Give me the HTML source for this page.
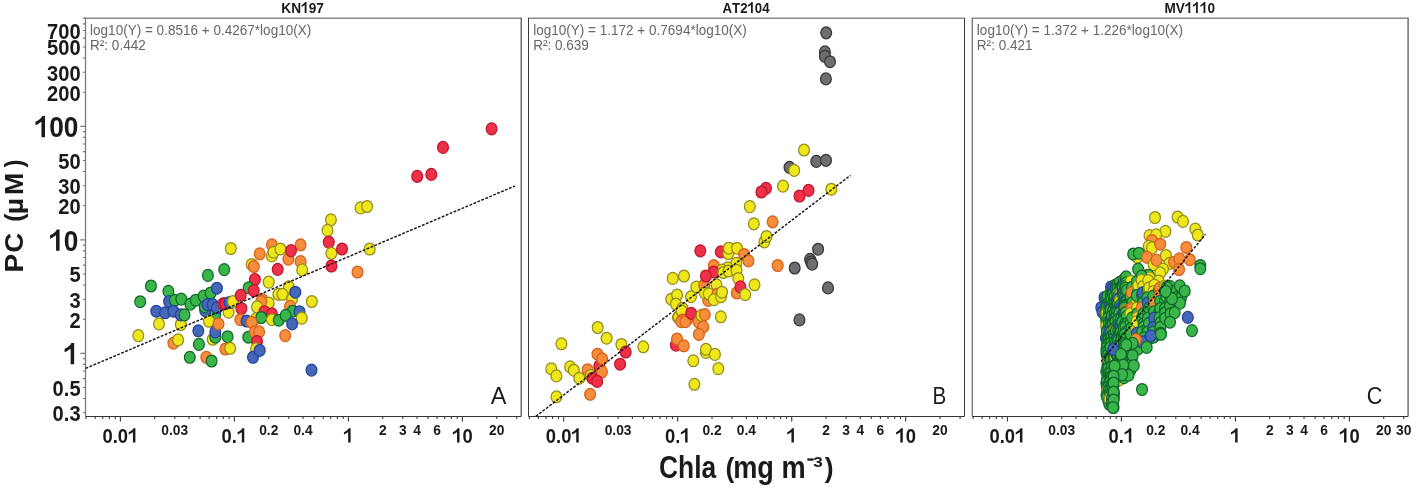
<!DOCTYPE html>
<html><head><meta charset="utf-8"><style>
html,body{margin:0;padding:0;background:#fff;}
body{width:1417px;height:489px;overflow:hidden;}
svg{display:block;font-family:"Liberation Sans", sans-serif;will-change:transform;}
</style></head><body>
<svg width="1417" height="489" viewBox="0 0 1417 489">
<rect width="1417" height="489" fill="#fff"/>
<path d="M84.8 18.2 H521.9" stroke="#8a8a8a" stroke-width="1.5" fill="none"/>
<path d="M85.5 18.2 V416.5" stroke="#7a7a7a" stroke-width="1.3" fill="none"/>
<path d="M521.2 18.2 V416.5" stroke="#555555" stroke-width="1.3" fill="none"/>
<path d="M85.5 416.5 H521.2" stroke="#333" stroke-width="1.0" fill="none"/>
<path d="M86.08 416.4 v2.6 M95.11 416.4 v2.6 M102.74 416.4 v2.6 M109.35 416.4 v2.6 M115.18 416.4 v2.6 M120.40 416.4 v5.0 M154.72 416.4 v2.6 M174.79 416.4 v2.6 M189.03 416.4 v2.6 M200.08 416.4 v2.6 M209.11 416.4 v2.6 M216.74 416.4 v2.6 M223.35 416.4 v2.6 M229.18 416.4 v2.6 M234.40 416.4 v5.0 M268.72 416.4 v2.6 M288.79 416.4 v2.6 M303.03 416.4 v2.6 M314.08 416.4 v2.6 M323.11 416.4 v2.6 M330.74 416.4 v2.6 M337.35 416.4 v2.6 M343.18 416.4 v2.6 M348.40 416.4 v5.0 M382.72 416.4 v2.6 M402.79 416.4 v2.6 M417.03 416.4 v2.6 M428.08 416.4 v2.6 M437.11 416.4 v2.6 M444.74 416.4 v2.6 M451.35 416.4 v2.6 M457.18 416.4 v2.6 M462.40 416.4 v5.0 M496.72 416.4 v2.6 M516.79 416.4 v2.6" stroke="#3a3a3a" stroke-width="1.1" fill="none"/>
<g transform="translate(120.40 442.60) scale(0.92 1)" fill="#1a1a1a"><text x="-19.46" y="0" font-size="20.0" font-weight="bold">0</text><text x="-8.34" y="0" font-size="20.0" font-weight="bold">.</text><text x="-2.78" y="0" font-size="20.0" font-weight="bold">0</text><polygon points="16.30,0.00 16.30,-14.32 14.18,-14.32 13.58,-13.36 12.44,-12.24 10.94,-11.30 9.04,-10.44 9.04,-8.10 10.74,-8.80 12.34,-9.70 13.62,-10.50 13.62,0.00"/></g>
<g transform="translate(234.40 442.60) scale(0.92 1)" fill="#1a1a1a"><text x="-13.90" y="0" font-size="20.0" font-weight="bold">0</text><text x="-2.78" y="0" font-size="20.0" font-weight="bold">.</text><polygon points="10.74,0.00 10.74,-14.32 8.62,-14.32 8.02,-13.36 6.88,-12.24 5.38,-11.30 3.48,-10.44 3.48,-8.10 5.18,-8.80 6.78,-9.70 8.06,-10.50 8.06,0.00"/></g>
<g transform="translate(348.40 442.60) scale(0.92 1)" fill="#1a1a1a"><polygon points="2.40,0.00 2.40,-14.32 0.28,-14.32 -0.32,-13.36 -1.46,-12.24 -2.96,-11.30 -4.86,-10.44 -4.86,-8.10 -3.16,-8.80 -1.56,-9.70 -0.28,-10.50 -0.28,0.00"/></g>
<g transform="translate(462.40 442.60) scale(0.92 1)" fill="#1a1a1a"><polygon points="-3.16,0.00 -3.16,-14.32 -5.28,-14.32 -5.88,-13.36 -7.02,-12.24 -8.52,-11.30 -10.42,-10.44 -10.42,-8.10 -8.72,-8.80 -7.12,-9.70 -5.84,-10.50 -5.84,0.00"/><text x="0.00" y="0" font-size="20.0" font-weight="bold">0</text></g>
<text transform="translate(174.79 435.30) scale(0.92 1)" font-size="15.0" font-weight="bold" text-anchor="middle" fill="#1a1a1a">0.03</text>
<text transform="translate(268.72 435.30) scale(0.92 1)" font-size="15.0" font-weight="bold" text-anchor="middle" fill="#1a1a1a">0.2</text>
<text transform="translate(303.03 435.30) scale(0.92 1)" font-size="15.0" font-weight="bold" text-anchor="middle" fill="#1a1a1a">0.4</text>
<text transform="translate(382.72 435.30) scale(0.92 1)" font-size="15.0" font-weight="bold" text-anchor="middle" fill="#1a1a1a">2</text>
<text transform="translate(402.79 435.30) scale(0.92 1)" font-size="15.0" font-weight="bold" text-anchor="middle" fill="#1a1a1a">3</text>
<text transform="translate(417.03 435.30) scale(0.92 1)" font-size="15.0" font-weight="bold" text-anchor="middle" fill="#1a1a1a">4</text>
<text transform="translate(437.11 435.30) scale(0.92 1)" font-size="15.0" font-weight="bold" text-anchor="middle" fill="#1a1a1a">6</text>
<text transform="translate(496.72 435.30) scale(0.92 1)" font-size="15.0" font-weight="bold" text-anchor="middle" fill="#1a1a1a">20</text>
<path d="M527.8 18.2 H965.2" stroke="#8a8a8a" stroke-width="1.5" fill="none"/>
<path d="M528.5 18.2 V416.5" stroke="#3a3a3a" stroke-width="1.0" fill="none"/>
<path d="M964.5 18.2 V416.5" stroke="#3a3a3a" stroke-width="1.0" fill="none"/>
<path d="M528.5 416.5 H964.5" stroke="#333" stroke-width="1.0" fill="none"/>
<path d="M529.38 416.4 v2.6 M538.41 416.4 v2.6 M546.04 416.4 v2.6 M552.65 416.4 v2.6 M558.48 416.4 v2.6 M563.70 416.4 v5.0 M598.02 416.4 v2.6 M618.09 416.4 v2.6 M632.33 416.4 v2.6 M643.38 416.4 v2.6 M652.41 416.4 v2.6 M660.04 416.4 v2.6 M666.65 416.4 v2.6 M672.48 416.4 v2.6 M677.70 416.4 v5.0 M712.02 416.4 v2.6 M732.09 416.4 v2.6 M746.33 416.4 v2.6 M757.38 416.4 v2.6 M766.41 416.4 v2.6 M774.04 416.4 v2.6 M780.65 416.4 v2.6 M786.48 416.4 v2.6 M791.70 416.4 v5.0 M826.02 416.4 v2.6 M846.09 416.4 v2.6 M860.33 416.4 v2.6 M871.38 416.4 v2.6 M880.41 416.4 v2.6 M888.04 416.4 v2.6 M894.65 416.4 v2.6 M900.48 416.4 v2.6 M905.70 416.4 v5.0 M940.02 416.4 v2.6 M960.09 416.4 v2.6" stroke="#3a3a3a" stroke-width="1.1" fill="none"/>
<g transform="translate(563.70 442.60) scale(0.92 1)" fill="#1a1a1a"><text x="-19.46" y="0" font-size="20.0" font-weight="bold">0</text><text x="-8.34" y="0" font-size="20.0" font-weight="bold">.</text><text x="-2.78" y="0" font-size="20.0" font-weight="bold">0</text><polygon points="16.30,0.00 16.30,-14.32 14.18,-14.32 13.58,-13.36 12.44,-12.24 10.94,-11.30 9.04,-10.44 9.04,-8.10 10.74,-8.80 12.34,-9.70 13.62,-10.50 13.62,0.00"/></g>
<g transform="translate(677.70 442.60) scale(0.92 1)" fill="#1a1a1a"><text x="-13.90" y="0" font-size="20.0" font-weight="bold">0</text><text x="-2.78" y="0" font-size="20.0" font-weight="bold">.</text><polygon points="10.74,0.00 10.74,-14.32 8.62,-14.32 8.02,-13.36 6.88,-12.24 5.38,-11.30 3.48,-10.44 3.48,-8.10 5.18,-8.80 6.78,-9.70 8.06,-10.50 8.06,0.00"/></g>
<g transform="translate(791.70 442.60) scale(0.92 1)" fill="#1a1a1a"><polygon points="2.40,0.00 2.40,-14.32 0.28,-14.32 -0.32,-13.36 -1.46,-12.24 -2.96,-11.30 -4.86,-10.44 -4.86,-8.10 -3.16,-8.80 -1.56,-9.70 -0.28,-10.50 -0.28,0.00"/></g>
<g transform="translate(905.70 442.60) scale(0.92 1)" fill="#1a1a1a"><polygon points="-3.16,0.00 -3.16,-14.32 -5.28,-14.32 -5.88,-13.36 -7.02,-12.24 -8.52,-11.30 -10.42,-10.44 -10.42,-8.10 -8.72,-8.80 -7.12,-9.70 -5.84,-10.50 -5.84,0.00"/><text x="0.00" y="0" font-size="20.0" font-weight="bold">0</text></g>
<text transform="translate(618.09 435.30) scale(0.92 1)" font-size="15.0" font-weight="bold" text-anchor="middle" fill="#1a1a1a">0.03</text>
<text transform="translate(712.02 435.30) scale(0.92 1)" font-size="15.0" font-weight="bold" text-anchor="middle" fill="#1a1a1a">0.2</text>
<text transform="translate(746.33 435.30) scale(0.92 1)" font-size="15.0" font-weight="bold" text-anchor="middle" fill="#1a1a1a">0.4</text>
<text transform="translate(826.02 435.30) scale(0.92 1)" font-size="15.0" font-weight="bold" text-anchor="middle" fill="#1a1a1a">2</text>
<text transform="translate(846.09 435.30) scale(0.92 1)" font-size="15.0" font-weight="bold" text-anchor="middle" fill="#1a1a1a">3</text>
<text transform="translate(860.33 435.30) scale(0.92 1)" font-size="15.0" font-weight="bold" text-anchor="middle" fill="#1a1a1a">4</text>
<text transform="translate(880.41 435.30) scale(0.92 1)" font-size="15.0" font-weight="bold" text-anchor="middle" fill="#1a1a1a">6</text>
<text transform="translate(940.02 435.30) scale(0.92 1)" font-size="15.0" font-weight="bold" text-anchor="middle" fill="#1a1a1a">20</text>
<path d="M971.6 18.2 H1408.8" stroke="#8a8a8a" stroke-width="1.5" fill="none"/>
<path d="M972.3 18.2 V416.5" stroke="#7a7a7a" stroke-width="1.4" fill="none"/>
<path d="M1408.1 18.2 V416.5" stroke="#6e6e6e" stroke-width="1.5" fill="none"/>
<path d="M972.3 416.5 H1408.1" stroke="#333" stroke-width="1.0" fill="none"/>
<path d="M973.08 416.4 v2.6 M982.11 416.4 v2.6 M989.74 416.4 v2.6 M996.35 416.4 v2.6 M1002.18 416.4 v2.6 M1007.40 416.4 v5.0 M1041.72 416.4 v2.6 M1061.79 416.4 v2.6 M1076.03 416.4 v2.6 M1087.08 416.4 v2.6 M1096.11 416.4 v2.6 M1103.74 416.4 v2.6 M1110.35 416.4 v2.6 M1116.18 416.4 v2.6 M1121.40 416.4 v5.0 M1155.72 416.4 v2.6 M1175.79 416.4 v2.6 M1190.03 416.4 v2.6 M1201.08 416.4 v2.6 M1210.11 416.4 v2.6 M1217.74 416.4 v2.6 M1224.35 416.4 v2.6 M1230.18 416.4 v2.6 M1235.40 416.4 v5.0 M1269.72 416.4 v2.6 M1289.79 416.4 v2.6 M1304.03 416.4 v2.6 M1315.08 416.4 v2.6 M1324.11 416.4 v2.6 M1331.74 416.4 v2.6 M1338.35 416.4 v2.6 M1344.18 416.4 v2.6 M1349.40 416.4 v5.0 M1383.72 416.4 v2.6 M1403.79 416.4 v2.6" stroke="#3a3a3a" stroke-width="1.1" fill="none"/>
<g transform="translate(1007.40 442.60) scale(0.92 1)" fill="#1a1a1a"><text x="-19.46" y="0" font-size="20.0" font-weight="bold">0</text><text x="-8.34" y="0" font-size="20.0" font-weight="bold">.</text><text x="-2.78" y="0" font-size="20.0" font-weight="bold">0</text><polygon points="16.30,0.00 16.30,-14.32 14.18,-14.32 13.58,-13.36 12.44,-12.24 10.94,-11.30 9.04,-10.44 9.04,-8.10 10.74,-8.80 12.34,-9.70 13.62,-10.50 13.62,0.00"/></g>
<g transform="translate(1121.40 442.60) scale(0.92 1)" fill="#1a1a1a"><text x="-13.90" y="0" font-size="20.0" font-weight="bold">0</text><text x="-2.78" y="0" font-size="20.0" font-weight="bold">.</text><polygon points="10.74,0.00 10.74,-14.32 8.62,-14.32 8.02,-13.36 6.88,-12.24 5.38,-11.30 3.48,-10.44 3.48,-8.10 5.18,-8.80 6.78,-9.70 8.06,-10.50 8.06,0.00"/></g>
<g transform="translate(1235.40 442.60) scale(0.92 1)" fill="#1a1a1a"><polygon points="2.40,0.00 2.40,-14.32 0.28,-14.32 -0.32,-13.36 -1.46,-12.24 -2.96,-11.30 -4.86,-10.44 -4.86,-8.10 -3.16,-8.80 -1.56,-9.70 -0.28,-10.50 -0.28,0.00"/></g>
<g transform="translate(1349.40 442.60) scale(0.92 1)" fill="#1a1a1a"><polygon points="-3.16,0.00 -3.16,-14.32 -5.28,-14.32 -5.88,-13.36 -7.02,-12.24 -8.52,-11.30 -10.42,-10.44 -10.42,-8.10 -8.72,-8.80 -7.12,-9.70 -5.84,-10.50 -5.84,0.00"/><text x="0.00" y="0" font-size="20.0" font-weight="bold">0</text></g>
<text transform="translate(1061.79 435.30) scale(0.92 1)" font-size="15.0" font-weight="bold" text-anchor="middle" fill="#1a1a1a">0.03</text>
<text transform="translate(1155.72 435.30) scale(0.92 1)" font-size="15.0" font-weight="bold" text-anchor="middle" fill="#1a1a1a">0.2</text>
<text transform="translate(1190.03 435.30) scale(0.92 1)" font-size="15.0" font-weight="bold" text-anchor="middle" fill="#1a1a1a">0.4</text>
<text transform="translate(1269.72 435.30) scale(0.92 1)" font-size="15.0" font-weight="bold" text-anchor="middle" fill="#1a1a1a">2</text>
<text transform="translate(1289.79 435.30) scale(0.92 1)" font-size="15.0" font-weight="bold" text-anchor="middle" fill="#1a1a1a">3</text>
<text transform="translate(1304.03 435.30) scale(0.92 1)" font-size="15.0" font-weight="bold" text-anchor="middle" fill="#1a1a1a">4</text>
<text transform="translate(1324.11 435.30) scale(0.92 1)" font-size="15.0" font-weight="bold" text-anchor="middle" fill="#1a1a1a">6</text>
<text transform="translate(1383.72 435.30) scale(0.92 1)" font-size="15.0" font-weight="bold" text-anchor="middle" fill="#1a1a1a">20</text>
<text transform="translate(1403.79 435.30) scale(0.92 1)" font-size="15.0" font-weight="bold" text-anchor="middle" fill="#1a1a1a">30</text>
<path d="M85.5 412.75 h-2.7 M85.5 398.57 h-2.7 M85.5 387.57 h-2.7 M85.5 378.58 h-2.7 M85.5 370.98 h-2.7 M85.5 364.40 h-2.7 M85.5 358.59 h-2.7 M85.5 353.40 h-5.2 M85.5 319.23 h-2.7 M85.5 299.25 h-2.7 M85.5 285.07 h-2.7 M85.5 274.07 h-2.7 M85.5 265.08 h-2.7 M85.5 257.48 h-2.7 M85.5 250.90 h-2.7 M85.5 245.09 h-2.7 M85.5 239.90 h-5.2 M85.5 205.73 h-2.7 M85.5 185.75 h-2.7 M85.5 171.57 h-2.7 M85.5 160.57 h-2.7 M85.5 151.58 h-2.7 M85.5 143.98 h-2.7 M85.5 137.40 h-2.7 M85.5 131.59 h-2.7 M85.5 126.40 h-5.2 M85.5 92.23 h-2.7 M85.5 72.25 h-2.7 M85.5 58.07 h-2.7 M85.5 47.07 h-2.7 M85.5 38.08 h-2.7 M85.5 30.48 h-2.7 M85.5 23.90 h-2.7 M85.5 18.09 h-2.7" stroke="#7a7a7a" stroke-width="1.1" fill="none"/>
<g transform="translate(78.30 364.30) scale(0.88 1)" fill="#1a1a1a"><polygon points="-4.71,0.00 -4.71,-21.34 -7.87,-21.34 -8.76,-19.91 -10.46,-18.24 -12.69,-16.84 -15.53,-15.56 -15.53,-12.07 -12.99,-13.11 -10.61,-14.45 -8.70,-15.65 -8.70,0.00"/></g>
<g transform="translate(78.30 250.80) scale(0.88 1)" fill="#1a1a1a"><polygon points="-21.28,0.00 -21.28,-21.34 -24.44,-21.34 -25.33,-19.91 -27.03,-18.24 -29.26,-16.84 -32.09,-15.56 -32.09,-12.07 -29.56,-13.11 -27.18,-14.45 -25.27,-15.65 -25.27,0.00"/><text x="-16.57" y="0" font-size="29.8" font-weight="bold">0</text></g>
<g transform="translate(78.30 137.30) scale(0.88 1)" fill="#1a1a1a"><polygon points="-37.85,0.00 -37.85,-21.34 -41.00,-21.34 -41.90,-19.91 -43.60,-18.24 -45.83,-16.84 -48.66,-15.56 -48.66,-12.07 -46.13,-13.11 -43.75,-14.45 -41.84,-15.65 -41.84,0.00"/><text x="-33.14" y="0" font-size="29.8" font-weight="bold">0</text><text x="-16.57" y="0" font-size="29.8" font-weight="bold">0</text></g>
<text transform="translate(80.60 421.05) scale(0.895 1)" font-size="22.5" font-weight="bold" text-anchor="end" fill="#1a1a1a">0.3</text>
<text transform="translate(80.60 395.87) scale(0.895 1)" font-size="22.5" font-weight="bold" text-anchor="end" fill="#1a1a1a">0.5</text>
<text transform="translate(80.60 327.53) scale(0.895 1)" font-size="22.5" font-weight="bold" text-anchor="end" fill="#1a1a1a">2</text>
<text transform="translate(80.60 307.55) scale(0.895 1)" font-size="22.5" font-weight="bold" text-anchor="end" fill="#1a1a1a">3</text>
<text transform="translate(80.60 282.37) scale(0.895 1)" font-size="22.5" font-weight="bold" text-anchor="end" fill="#1a1a1a">5</text>
<text transform="translate(80.60 214.03) scale(0.895 1)" font-size="22.5" font-weight="bold" text-anchor="end" fill="#1a1a1a">20</text>
<text transform="translate(80.60 194.05) scale(0.895 1)" font-size="22.5" font-weight="bold" text-anchor="end" fill="#1a1a1a">30</text>
<text transform="translate(80.60 168.87) scale(0.895 1)" font-size="22.5" font-weight="bold" text-anchor="end" fill="#1a1a1a">50</text>
<text transform="translate(80.60 100.53) scale(0.895 1)" font-size="22.5" font-weight="bold" text-anchor="end" fill="#1a1a1a">200</text>
<text transform="translate(80.60 80.55) scale(0.895 1)" font-size="22.5" font-weight="bold" text-anchor="end" fill="#1a1a1a">300</text>
<text transform="translate(80.60 55.37) scale(0.895 1)" font-size="22.5" font-weight="bold" text-anchor="end" fill="#1a1a1a">500</text>
<text transform="translate(80.60 38.78) scale(0.895 1)" font-size="22.5" font-weight="bold" text-anchor="end" fill="#1a1a1a">700</text>
<ellipse cx="140.2" cy="301.7" rx="5.4" ry="5.95" fill="#3ab54a" stroke="#11692b" stroke-width="1.25"/>
<ellipse cx="151.0" cy="286.0" rx="5.4" ry="5.95" fill="#3ab54a" stroke="#11692b" stroke-width="1.25"/>
<ellipse cx="168.4" cy="291.4" rx="5.4" ry="5.95" fill="#3ab54a" stroke="#11692b" stroke-width="1.25"/>
<ellipse cx="207.9" cy="275.4" rx="5.4" ry="5.95" fill="#3ab54a" stroke="#11692b" stroke-width="1.25"/>
<ellipse cx="224.2" cy="269.6" rx="5.4" ry="5.95" fill="#3ab54a" stroke="#11692b" stroke-width="1.25"/>
<ellipse cx="169.1" cy="301.5" rx="5.4" ry="5.95" fill="#4467b8" stroke="#2443a0" stroke-width="1.25"/>
<ellipse cx="174.9" cy="300.2" rx="5.4" ry="5.95" fill="#3ab54a" stroke="#11692b" stroke-width="1.25"/>
<ellipse cx="181.3" cy="299.1" rx="5.4" ry="5.95" fill="#3ab54a" stroke="#11692b" stroke-width="1.25"/>
<ellipse cx="190.4" cy="304.1" rx="5.4" ry="5.95" fill="#3ab54a" stroke="#11692b" stroke-width="1.25"/>
<ellipse cx="195.7" cy="300.2" rx="5.4" ry="5.95" fill="#3ab54a" stroke="#11692b" stroke-width="1.25"/>
<ellipse cx="203.6" cy="296.1" rx="5.4" ry="5.95" fill="#3ab54a" stroke="#11692b" stroke-width="1.25"/>
<ellipse cx="210.6" cy="293.0" rx="5.4" ry="5.95" fill="#3ab54a" stroke="#11692b" stroke-width="1.25"/>
<ellipse cx="216.9" cy="288.2" rx="5.4" ry="5.95" fill="#4467b8" stroke="#2443a0" stroke-width="1.25"/>
<ellipse cx="156.3" cy="311.2" rx="5.4" ry="5.95" fill="#4467b8" stroke="#2443a0" stroke-width="1.25"/>
<ellipse cx="165.1" cy="312.8" rx="5.4" ry="5.95" fill="#4467b8" stroke="#2443a0" stroke-width="1.25"/>
<ellipse cx="173.4" cy="311.2" rx="5.4" ry="5.95" fill="#4467b8" stroke="#2443a0" stroke-width="1.25"/>
<ellipse cx="180.8" cy="324.5" rx="5.4" ry="5.95" fill="#eee71b" stroke="#938d1c" stroke-width="1.25"/>
<ellipse cx="180.8" cy="314.9" rx="5.4" ry="5.95" fill="#4467b8" stroke="#2443a0" stroke-width="1.25"/>
<ellipse cx="184.5" cy="314.9" rx="5.4" ry="5.95" fill="#3ab54a" stroke="#11692b" stroke-width="1.25"/>
<ellipse cx="215.3" cy="314.5" rx="5.4" ry="5.95" fill="#3ab54a" stroke="#11692b" stroke-width="1.25"/>
<ellipse cx="205.2" cy="310.6" rx="5.4" ry="5.95" fill="#4467b8" stroke="#2443a0" stroke-width="1.25"/>
<ellipse cx="204.7" cy="306.8" rx="5.4" ry="5.95" fill="#3ab54a" stroke="#11692b" stroke-width="1.25"/>
<ellipse cx="207.4" cy="304.6" rx="5.4" ry="5.95" fill="#4467b8" stroke="#2443a0" stroke-width="1.25"/>
<ellipse cx="212.7" cy="304.6" rx="5.4" ry="5.95" fill="#4467b8" stroke="#2443a0" stroke-width="1.25"/>
<ellipse cx="216.9" cy="307.8" rx="5.4" ry="5.95" fill="#4467b8" stroke="#2443a0" stroke-width="1.25"/>
<ellipse cx="228.6" cy="312.2" rx="5.4" ry="5.95" fill="#eee71b" stroke="#938d1c" stroke-width="1.25"/>
<ellipse cx="223.3" cy="303.7" rx="5.4" ry="5.95" fill="#ee3048" stroke="#bd172d" stroke-width="1.25"/>
<ellipse cx="225.4" cy="303.6" rx="5.4" ry="5.95" fill="#ee3048" stroke="#bd172d" stroke-width="1.25"/>
<ellipse cx="229.5" cy="302.5" rx="5.4" ry="5.95" fill="#4467b8" stroke="#2443a0" stroke-width="1.25"/>
<ellipse cx="232.9" cy="301.5" rx="5.4" ry="5.95" fill="#eee71b" stroke="#938d1c" stroke-width="1.25"/>
<ellipse cx="209.0" cy="321.3" rx="5.4" ry="5.95" fill="#eee71b" stroke="#938d1c" stroke-width="1.25"/>
<ellipse cx="159.0" cy="323.9" rx="5.4" ry="5.95" fill="#eee71b" stroke="#938d1c" stroke-width="1.25"/>
<ellipse cx="138.3" cy="335.6" rx="5.4" ry="5.95" fill="#eee71b" stroke="#938d1c" stroke-width="1.25"/>
<ellipse cx="198.3" cy="330.8" rx="5.4" ry="5.95" fill="#4467b8" stroke="#2443a0" stroke-width="1.25"/>
<ellipse cx="212.7" cy="339.3" rx="5.4" ry="5.95" fill="#eee71b" stroke="#938d1c" stroke-width="1.25"/>
<ellipse cx="215.3" cy="337.2" rx="5.4" ry="5.95" fill="#3ab54a" stroke="#11692b" stroke-width="1.25"/>
<ellipse cx="215.3" cy="331.9" rx="5.4" ry="5.95" fill="#4467b8" stroke="#2443a0" stroke-width="1.25"/>
<ellipse cx="218.5" cy="323.9" rx="5.4" ry="5.95" fill="#f58d3a" stroke="#d4621c" stroke-width="1.25"/>
<ellipse cx="227.6" cy="336.7" rx="5.4" ry="5.95" fill="#3ab54a" stroke="#11692b" stroke-width="1.25"/>
<ellipse cx="198.9" cy="344.4" rx="5.4" ry="5.95" fill="#3ab54a" stroke="#11692b" stroke-width="1.25"/>
<ellipse cx="173.4" cy="343.1" rx="5.4" ry="5.95" fill="#f58d3a" stroke="#d4621c" stroke-width="1.25"/>
<ellipse cx="178.1" cy="339.9" rx="5.4" ry="5.95" fill="#eee71b" stroke="#938d1c" stroke-width="1.25"/>
<ellipse cx="189.8" cy="357.3" rx="5.4" ry="5.95" fill="#3ab54a" stroke="#11692b" stroke-width="1.25"/>
<ellipse cx="206.3" cy="357.3" rx="5.4" ry="5.95" fill="#f58d3a" stroke="#d4621c" stroke-width="1.25"/>
<ellipse cx="211.6" cy="361.0" rx="5.4" ry="5.95" fill="#3ab54a" stroke="#11692b" stroke-width="1.25"/>
<ellipse cx="225.4" cy="349.0" rx="5.4" ry="5.95" fill="#f58d3a" stroke="#d4621c" stroke-width="1.25"/>
<ellipse cx="230.2" cy="348.3" rx="5.4" ry="5.95" fill="#eee71b" stroke="#938d1c" stroke-width="1.25"/>
<ellipse cx="311.5" cy="370.1" rx="5.4" ry="5.95" fill="#4467b8" stroke="#2443a0" stroke-width="1.25"/>
<ellipse cx="491.6" cy="128.8" rx="5.4" ry="5.95" fill="#ee3048" stroke="#bd172d" stroke-width="1.25"/>
<ellipse cx="443.0" cy="147.4" rx="5.4" ry="5.95" fill="#ee3048" stroke="#bd172d" stroke-width="1.25"/>
<ellipse cx="417.2" cy="176.3" rx="5.4" ry="5.95" fill="#ee3048" stroke="#bd172d" stroke-width="1.25"/>
<ellipse cx="431.3" cy="174.4" rx="5.4" ry="5.95" fill="#ee3048" stroke="#bd172d" stroke-width="1.25"/>
<ellipse cx="360.5" cy="207.9" rx="5.4" ry="5.95" fill="#eee71b" stroke="#938d1c" stroke-width="1.25"/>
<ellipse cx="367.1" cy="206.5" rx="5.4" ry="5.95" fill="#eee71b" stroke="#938d1c" stroke-width="1.25"/>
<ellipse cx="330.9" cy="219.8" rx="5.4" ry="5.95" fill="#eee71b" stroke="#938d1c" stroke-width="1.25"/>
<ellipse cx="327.5" cy="230.4" rx="5.4" ry="5.95" fill="#eee71b" stroke="#938d1c" stroke-width="1.25"/>
<ellipse cx="328.8" cy="242.1" rx="5.4" ry="5.95" fill="#ee3048" stroke="#bd172d" stroke-width="1.25"/>
<ellipse cx="331.4" cy="253.3" rx="5.4" ry="5.95" fill="#eee71b" stroke="#938d1c" stroke-width="1.25"/>
<ellipse cx="342.0" cy="249.0" rx="5.4" ry="5.95" fill="#ee3048" stroke="#bd172d" stroke-width="1.25"/>
<ellipse cx="369.7" cy="249.0" rx="5.4" ry="5.95" fill="#eee71b" stroke="#938d1c" stroke-width="1.25"/>
<ellipse cx="331.4" cy="266.0" rx="5.4" ry="5.95" fill="#ee3048" stroke="#bd172d" stroke-width="1.25"/>
<ellipse cx="357.5" cy="272.0" rx="5.4" ry="5.95" fill="#f58d3a" stroke="#d4621c" stroke-width="1.25"/>
<ellipse cx="271.9" cy="244.8" rx="5.4" ry="5.95" fill="#f58d3a" stroke="#d4621c" stroke-width="1.25"/>
<ellipse cx="300.6" cy="244.8" rx="5.4" ry="5.95" fill="#f58d3a" stroke="#d4621c" stroke-width="1.25"/>
<ellipse cx="230.8" cy="248.5" rx="5.4" ry="5.95" fill="#eee71b" stroke="#938d1c" stroke-width="1.25"/>
<ellipse cx="259.7" cy="253.8" rx="5.4" ry="5.95" fill="#f58d3a" stroke="#d4621c" stroke-width="1.25"/>
<ellipse cx="271.9" cy="255.9" rx="5.4" ry="5.95" fill="#eee71b" stroke="#938d1c" stroke-width="1.25"/>
<ellipse cx="273.5" cy="252.2" rx="5.4" ry="5.95" fill="#eee71b" stroke="#938d1c" stroke-width="1.25"/>
<ellipse cx="280.4" cy="249.0" rx="5.4" ry="5.95" fill="#eee71b" stroke="#938d1c" stroke-width="1.25"/>
<ellipse cx="288.4" cy="259.1" rx="5.4" ry="5.95" fill="#f58d3a" stroke="#d4621c" stroke-width="1.25"/>
<ellipse cx="291.0" cy="250.6" rx="5.4" ry="5.95" fill="#ee3048" stroke="#bd172d" stroke-width="1.25"/>
<ellipse cx="300.6" cy="261.6" rx="5.4" ry="5.95" fill="#f58d3a" stroke="#d4621c" stroke-width="1.25"/>
<ellipse cx="251.7" cy="264.5" rx="5.4" ry="5.95" fill="#eee71b" stroke="#938d1c" stroke-width="1.25"/>
<ellipse cx="253.8" cy="266.5" rx="5.4" ry="5.95" fill="#f58d3a" stroke="#d4621c" stroke-width="1.25"/>
<ellipse cx="277.7" cy="269.4" rx="5.4" ry="5.95" fill="#ee3048" stroke="#bd172d" stroke-width="1.25"/>
<ellipse cx="302.2" cy="269.9" rx="5.4" ry="5.95" fill="#eee71b" stroke="#938d1c" stroke-width="1.25"/>
<ellipse cx="254.9" cy="279.5" rx="5.4" ry="5.95" fill="#ee3048" stroke="#bd172d" stroke-width="1.25"/>
<ellipse cx="268.7" cy="282.1" rx="5.4" ry="5.95" fill="#eee71b" stroke="#938d1c" stroke-width="1.25"/>
<ellipse cx="248.6" cy="287.8" rx="5.4" ry="5.95" fill="#3ab54a" stroke="#11692b" stroke-width="1.25"/>
<ellipse cx="253.8" cy="290.6" rx="5.4" ry="5.95" fill="#ee3048" stroke="#bd172d" stroke-width="1.25"/>
<ellipse cx="240.7" cy="295.3" rx="5.4" ry="5.95" fill="#ee3048" stroke="#bd172d" stroke-width="1.25"/>
<ellipse cx="288.9" cy="286.9" rx="5.4" ry="5.95" fill="#eee71b" stroke="#938d1c" stroke-width="1.25"/>
<ellipse cx="278.3" cy="294.3" rx="5.4" ry="5.95" fill="#eee71b" stroke="#938d1c" stroke-width="1.25"/>
<ellipse cx="282.5" cy="294.3" rx="5.4" ry="5.95" fill="#eee71b" stroke="#938d1c" stroke-width="1.25"/>
<ellipse cx="292.1" cy="299.0" rx="5.4" ry="5.95" fill="#eee71b" stroke="#938d1c" stroke-width="1.25"/>
<ellipse cx="295.3" cy="292.2" rx="5.4" ry="5.95" fill="#4467b8" stroke="#2443a0" stroke-width="1.25"/>
<ellipse cx="262.3" cy="299.6" rx="5.4" ry="5.95" fill="#f58d3a" stroke="#d4621c" stroke-width="1.25"/>
<ellipse cx="268.7" cy="303.0" rx="5.4" ry="5.95" fill="#eee71b" stroke="#938d1c" stroke-width="1.25"/>
<ellipse cx="311.8" cy="301.5" rx="5.4" ry="5.95" fill="#eee71b" stroke="#938d1c" stroke-width="1.25"/>
<ellipse cx="261.3" cy="301.6" rx="5.4" ry="5.95" fill="#f58d3a" stroke="#d4621c" stroke-width="1.25"/>
<ellipse cx="257.0" cy="306.9" rx="5.4" ry="5.95" fill="#eee71b" stroke="#938d1c" stroke-width="1.25"/>
<ellipse cx="290.0" cy="306.4" rx="5.4" ry="5.95" fill="#f58d3a" stroke="#d4621c" stroke-width="1.25"/>
<ellipse cx="241.4" cy="308.5" rx="5.4" ry="5.95" fill="#ee3048" stroke="#bd172d" stroke-width="1.25"/>
<ellipse cx="264.4" cy="311.7" rx="5.4" ry="5.95" fill="#ee3048" stroke="#bd172d" stroke-width="1.25"/>
<ellipse cx="271.9" cy="313.8" rx="5.4" ry="5.95" fill="#ee3048" stroke="#bd172d" stroke-width="1.25"/>
<ellipse cx="292.6" cy="311.2" rx="5.4" ry="5.95" fill="#3ab54a" stroke="#11692b" stroke-width="1.25"/>
<ellipse cx="299.5" cy="311.7" rx="5.4" ry="5.95" fill="#4467b8" stroke="#2443a0" stroke-width="1.25"/>
<ellipse cx="256.0" cy="318.6" rx="5.4" ry="5.95" fill="#eee71b" stroke="#938d1c" stroke-width="1.25"/>
<ellipse cx="261.3" cy="317.5" rx="5.4" ry="5.95" fill="#3ab54a" stroke="#11692b" stroke-width="1.25"/>
<ellipse cx="271.9" cy="319.7" rx="5.4" ry="5.95" fill="#eee71b" stroke="#938d1c" stroke-width="1.25"/>
<ellipse cx="278.8" cy="320.2" rx="5.4" ry="5.95" fill="#3ab54a" stroke="#11692b" stroke-width="1.25"/>
<ellipse cx="285.7" cy="315.4" rx="5.4" ry="5.95" fill="#3ab54a" stroke="#11692b" stroke-width="1.25"/>
<ellipse cx="301.7" cy="318.1" rx="5.4" ry="5.95" fill="#eee71b" stroke="#938d1c" stroke-width="1.25"/>
<ellipse cx="292.1" cy="323.9" rx="5.4" ry="5.95" fill="#4467b8" stroke="#2443a0" stroke-width="1.25"/>
<ellipse cx="240.3" cy="319.7" rx="5.4" ry="5.95" fill="#f58d3a" stroke="#d4621c" stroke-width="1.25"/>
<ellipse cx="246.6" cy="321.0" rx="5.4" ry="5.95" fill="#4467b8" stroke="#2443a0" stroke-width="1.25"/>
<ellipse cx="251.7" cy="322.3" rx="5.4" ry="5.95" fill="#f58d3a" stroke="#d4621c" stroke-width="1.25"/>
<ellipse cx="248.3" cy="337.2" rx="5.4" ry="5.95" fill="#3ab54a" stroke="#11692b" stroke-width="1.25"/>
<ellipse cx="254.9" cy="331.9" rx="5.4" ry="5.95" fill="#f58d3a" stroke="#d4621c" stroke-width="1.25"/>
<ellipse cx="259.1" cy="331.9" rx="5.4" ry="5.95" fill="#f58d3a" stroke="#d4621c" stroke-width="1.25"/>
<ellipse cx="285.2" cy="335.6" rx="5.4" ry="5.95" fill="#f58d3a" stroke="#d4621c" stroke-width="1.25"/>
<ellipse cx="257.0" cy="341.5" rx="5.4" ry="5.95" fill="#ee3048" stroke="#bd172d" stroke-width="1.25"/>
<ellipse cx="256.0" cy="348.8" rx="5.4" ry="5.95" fill="#eee71b" stroke="#938d1c" stroke-width="1.25"/>
<ellipse cx="253.0" cy="357.3" rx="5.4" ry="5.95" fill="#4467b8" stroke="#2443a0" stroke-width="1.25"/>
<ellipse cx="259.7" cy="350.4" rx="5.4" ry="5.95" fill="#4467b8" stroke="#2443a0" stroke-width="1.25"/>
<ellipse cx="826.2" cy="32.8" rx="5.4" ry="5.95" fill="#6e6e70" stroke="#363636" stroke-width="1.25"/>
<ellipse cx="824.9" cy="51.9" rx="5.4" ry="5.95" fill="#6e6e70" stroke="#363636" stroke-width="1.25"/>
<ellipse cx="824.9" cy="56.3" rx="5.4" ry="5.95" fill="#6e6e70" stroke="#363636" stroke-width="1.25"/>
<ellipse cx="830.0" cy="61.7" rx="5.4" ry="5.95" fill="#6e6e70" stroke="#363636" stroke-width="1.25"/>
<ellipse cx="825.9" cy="78.9" rx="5.4" ry="5.95" fill="#6e6e70" stroke="#363636" stroke-width="1.25"/>
<ellipse cx="804.0" cy="150.0" rx="5.4" ry="5.95" fill="#eee71b" stroke="#938d1c" stroke-width="1.25"/>
<ellipse cx="816.3" cy="161.4" rx="5.4" ry="5.95" fill="#6e6e70" stroke="#363636" stroke-width="1.25"/>
<ellipse cx="826.0" cy="160.3" rx="5.4" ry="5.95" fill="#6e6e70" stroke="#363636" stroke-width="1.25"/>
<ellipse cx="789.5" cy="167.3" rx="5.4" ry="5.95" fill="#6e6e70" stroke="#363636" stroke-width="1.25"/>
<ellipse cx="794.2" cy="170.4" rx="5.4" ry="5.95" fill="#eee71b" stroke="#938d1c" stroke-width="1.25"/>
<ellipse cx="783.0" cy="186.1" rx="5.4" ry="5.95" fill="#eee71b" stroke="#938d1c" stroke-width="1.25"/>
<ellipse cx="766.0" cy="188.3" rx="5.4" ry="5.95" fill="#ee3048" stroke="#bd172d" stroke-width="1.25"/>
<ellipse cx="761.4" cy="192.0" rx="5.4" ry="5.95" fill="#ee3048" stroke="#bd172d" stroke-width="1.25"/>
<ellipse cx="808.5" cy="190.4" rx="5.4" ry="5.95" fill="#ee3048" stroke="#bd172d" stroke-width="1.25"/>
<ellipse cx="799.5" cy="196.0" rx="5.4" ry="5.95" fill="#ee3048" stroke="#bd172d" stroke-width="1.25"/>
<ellipse cx="831.3" cy="189.2" rx="5.4" ry="5.95" fill="#eee71b" stroke="#938d1c" stroke-width="1.25"/>
<ellipse cx="749.8" cy="206.6" rx="5.4" ry="5.95" fill="#eee71b" stroke="#938d1c" stroke-width="1.25"/>
<ellipse cx="753.8" cy="223.8" rx="5.4" ry="5.95" fill="#eee71b" stroke="#938d1c" stroke-width="1.25"/>
<ellipse cx="772.6" cy="221.8" rx="5.4" ry="5.95" fill="#f58d3a" stroke="#d4621c" stroke-width="1.25"/>
<ellipse cx="764.4" cy="241.8" rx="5.4" ry="5.95" fill="#eee71b" stroke="#938d1c" stroke-width="1.25"/>
<ellipse cx="766.5" cy="236.5" rx="5.4" ry="5.95" fill="#eee71b" stroke="#938d1c" stroke-width="1.25"/>
<ellipse cx="818.1" cy="249.2" rx="5.4" ry="5.95" fill="#6e6e70" stroke="#363636" stroke-width="1.25"/>
<ellipse cx="810.1" cy="259.3" rx="5.4" ry="5.95" fill="#6e6e70" stroke="#363636" stroke-width="1.25"/>
<ellipse cx="811.2" cy="262.0" rx="5.4" ry="5.95" fill="#6e6e70" stroke="#363636" stroke-width="1.25"/>
<ellipse cx="812.2" cy="264.1" rx="5.4" ry="5.95" fill="#6e6e70" stroke="#363636" stroke-width="1.25"/>
<ellipse cx="794.7" cy="268.0" rx="5.4" ry="5.95" fill="#6e6e70" stroke="#363636" stroke-width="1.25"/>
<ellipse cx="828.0" cy="287.9" rx="5.4" ry="5.95" fill="#6e6e70" stroke="#363636" stroke-width="1.25"/>
<ellipse cx="799.5" cy="319.9" rx="5.4" ry="5.95" fill="#6e6e70" stroke="#363636" stroke-width="1.25"/>
<ellipse cx="777.7" cy="265.5" rx="5.4" ry="5.95" fill="#f58d3a" stroke="#d4621c" stroke-width="1.25"/>
<ellipse cx="700.3" cy="250.8" rx="5.4" ry="5.95" fill="#ee3048" stroke="#bd172d" stroke-width="1.25"/>
<ellipse cx="720.8" cy="251.9" rx="5.4" ry="5.95" fill="#ee3048" stroke="#bd172d" stroke-width="1.25"/>
<ellipse cx="728.3" cy="253.5" rx="5.4" ry="5.95" fill="#eee71b" stroke="#938d1c" stroke-width="1.25"/>
<ellipse cx="728.8" cy="248.2" rx="5.4" ry="5.95" fill="#eee71b" stroke="#938d1c" stroke-width="1.25"/>
<ellipse cx="737.0" cy="248.2" rx="5.4" ry="5.95" fill="#eee71b" stroke="#938d1c" stroke-width="1.25"/>
<ellipse cx="744.1" cy="254.5" rx="5.4" ry="5.95" fill="#f58d3a" stroke="#d4621c" stroke-width="1.25"/>
<ellipse cx="748.5" cy="260.9" rx="5.4" ry="5.95" fill="#f58d3a" stroke="#d4621c" stroke-width="1.25"/>
<ellipse cx="713.8" cy="265.6" rx="5.4" ry="5.95" fill="#f58d3a" stroke="#d4621c" stroke-width="1.25"/>
<ellipse cx="736.3" cy="263.3" rx="5.4" ry="5.95" fill="#eee71b" stroke="#938d1c" stroke-width="1.25"/>
<ellipse cx="727.7" cy="267.8" rx="5.4" ry="5.95" fill="#eee71b" stroke="#938d1c" stroke-width="1.25"/>
<ellipse cx="721.9" cy="270.0" rx="5.4" ry="5.95" fill="#eee71b" stroke="#938d1c" stroke-width="1.25"/>
<ellipse cx="696.3" cy="287.1" rx="5.4" ry="5.95" fill="#eee71b" stroke="#938d1c" stroke-width="1.25"/>
<ellipse cx="704.3" cy="285.0" rx="5.4" ry="5.95" fill="#f58d3a" stroke="#d4621c" stroke-width="1.25"/>
<ellipse cx="713.7" cy="272.0" rx="5.4" ry="5.95" fill="#ee3048" stroke="#bd172d" stroke-width="1.25"/>
<ellipse cx="705.9" cy="276.0" rx="5.4" ry="5.95" fill="#ee3048" stroke="#bd172d" stroke-width="1.25"/>
<ellipse cx="723.3" cy="272.5" rx="5.4" ry="5.95" fill="#eee71b" stroke="#938d1c" stroke-width="1.25"/>
<ellipse cx="728.6" cy="271.0" rx="5.4" ry="5.95" fill="#eee71b" stroke="#938d1c" stroke-width="1.25"/>
<ellipse cx="736.6" cy="270.4" rx="5.4" ry="5.95" fill="#eee71b" stroke="#938d1c" stroke-width="1.25"/>
<ellipse cx="738.3" cy="278.6" rx="5.4" ry="5.95" fill="#eee71b" stroke="#938d1c" stroke-width="1.25"/>
<ellipse cx="672.7" cy="278.4" rx="5.4" ry="5.95" fill="#eee71b" stroke="#938d1c" stroke-width="1.25"/>
<ellipse cx="684.0" cy="276.0" rx="5.4" ry="5.95" fill="#eee71b" stroke="#938d1c" stroke-width="1.25"/>
<ellipse cx="736.8" cy="293.0" rx="5.4" ry="5.95" fill="#f58d3a" stroke="#d4621c" stroke-width="1.25"/>
<ellipse cx="740.4" cy="286.9" rx="5.4" ry="5.95" fill="#ee3048" stroke="#bd172d" stroke-width="1.25"/>
<ellipse cx="745.2" cy="294.6" rx="5.4" ry="5.95" fill="#eee71b" stroke="#938d1c" stroke-width="1.25"/>
<ellipse cx="754.5" cy="284.8" rx="5.4" ry="5.95" fill="#eee71b" stroke="#938d1c" stroke-width="1.25"/>
<ellipse cx="716.5" cy="284.8" rx="5.4" ry="5.95" fill="#eee71b" stroke="#938d1c" stroke-width="1.25"/>
<ellipse cx="708.2" cy="300.4" rx="5.4" ry="5.95" fill="#f58d3a" stroke="#d4621c" stroke-width="1.25"/>
<ellipse cx="704.5" cy="292.7" rx="5.4" ry="5.95" fill="#eee71b" stroke="#938d1c" stroke-width="1.25"/>
<ellipse cx="708.7" cy="293.8" rx="5.4" ry="5.95" fill="#eee71b" stroke="#938d1c" stroke-width="1.25"/>
<ellipse cx="717.5" cy="294.0" rx="5.4" ry="5.95" fill="#f58d3a" stroke="#d4621c" stroke-width="1.25"/>
<ellipse cx="713.9" cy="299.6" rx="5.4" ry="5.95" fill="#eee71b" stroke="#938d1c" stroke-width="1.25"/>
<ellipse cx="721.0" cy="296.7" rx="5.4" ry="5.95" fill="#eee71b" stroke="#938d1c" stroke-width="1.25"/>
<ellipse cx="722.0" cy="292.2" rx="5.4" ry="5.95" fill="#eee71b" stroke="#938d1c" stroke-width="1.25"/>
<ellipse cx="691.0" cy="296.7" rx="5.4" ry="5.95" fill="#eee71b" stroke="#938d1c" stroke-width="1.25"/>
<ellipse cx="671.2" cy="299.2" rx="5.4" ry="5.95" fill="#eee71b" stroke="#938d1c" stroke-width="1.25"/>
<ellipse cx="677.1" cy="295.0" rx="5.4" ry="5.95" fill="#eee71b" stroke="#938d1c" stroke-width="1.25"/>
<ellipse cx="676.0" cy="304.0" rx="5.4" ry="5.95" fill="#eee71b" stroke="#938d1c" stroke-width="1.25"/>
<ellipse cx="678.0" cy="317.4" rx="5.4" ry="5.95" fill="#eee71b" stroke="#938d1c" stroke-width="1.25"/>
<ellipse cx="678.7" cy="317.3" rx="5.4" ry="5.95" fill="#eee71b" stroke="#938d1c" stroke-width="1.25"/>
<ellipse cx="682.4" cy="308.3" rx="5.4" ry="5.95" fill="#eee71b" stroke="#938d1c" stroke-width="1.25"/>
<ellipse cx="681.7" cy="311.0" rx="5.4" ry="5.95" fill="#eee71b" stroke="#938d1c" stroke-width="1.25"/>
<ellipse cx="682.4" cy="320.0" rx="5.4" ry="5.95" fill="#f58d3a" stroke="#d4621c" stroke-width="1.25"/>
<ellipse cx="687.2" cy="319.4" rx="5.4" ry="5.95" fill="#f58d3a" stroke="#d4621c" stroke-width="1.25"/>
<ellipse cx="681.2" cy="321.7" rx="5.4" ry="5.95" fill="#f58d3a" stroke="#d4621c" stroke-width="1.25"/>
<ellipse cx="685.4" cy="321.7" rx="5.4" ry="5.95" fill="#f58d3a" stroke="#d4621c" stroke-width="1.25"/>
<ellipse cx="691.2" cy="313.4" rx="5.4" ry="5.95" fill="#ee3048" stroke="#bd172d" stroke-width="1.25"/>
<ellipse cx="698.5" cy="321.8" rx="5.4" ry="5.95" fill="#f58d3a" stroke="#d4621c" stroke-width="1.25"/>
<ellipse cx="701.6" cy="315.4" rx="5.4" ry="5.95" fill="#eee71b" stroke="#938d1c" stroke-width="1.25"/>
<ellipse cx="704.8" cy="314.6" rx="5.4" ry="5.95" fill="#f58d3a" stroke="#d4621c" stroke-width="1.25"/>
<ellipse cx="720.8" cy="316.8" rx="5.4" ry="5.95" fill="#eee71b" stroke="#938d1c" stroke-width="1.25"/>
<ellipse cx="703.2" cy="326.9" rx="5.4" ry="5.95" fill="#f58d3a" stroke="#d4621c" stroke-width="1.25"/>
<ellipse cx="698.9" cy="334.4" rx="5.4" ry="5.95" fill="#f58d3a" stroke="#d4621c" stroke-width="1.25"/>
<ellipse cx="675.9" cy="345.1" rx="5.4" ry="5.95" fill="#ee3048" stroke="#bd172d" stroke-width="1.25"/>
<ellipse cx="677.0" cy="339.0" rx="5.4" ry="5.95" fill="#f58d3a" stroke="#d4621c" stroke-width="1.25"/>
<ellipse cx="683.8" cy="345.8" rx="5.4" ry="5.95" fill="#f58d3a" stroke="#d4621c" stroke-width="1.25"/>
<ellipse cx="643.3" cy="346.8" rx="5.4" ry="5.95" fill="#eee71b" stroke="#938d1c" stroke-width="1.25"/>
<ellipse cx="705.9" cy="352.4" rx="5.4" ry="5.95" fill="#eee71b" stroke="#938d1c" stroke-width="1.25"/>
<ellipse cx="705.9" cy="349.3" rx="5.4" ry="5.95" fill="#eee71b" stroke="#938d1c" stroke-width="1.25"/>
<ellipse cx="714.9" cy="354.4" rx="5.4" ry="5.95" fill="#eee71b" stroke="#938d1c" stroke-width="1.25"/>
<ellipse cx="693.3" cy="360.8" rx="5.4" ry="5.95" fill="#eee71b" stroke="#938d1c" stroke-width="1.25"/>
<ellipse cx="718.3" cy="368.6" rx="5.4" ry="5.95" fill="#eee71b" stroke="#938d1c" stroke-width="1.25"/>
<ellipse cx="694.4" cy="384.3" rx="5.4" ry="5.95" fill="#eee71b" stroke="#938d1c" stroke-width="1.25"/>
<ellipse cx="597.7" cy="327.5" rx="5.4" ry="5.95" fill="#eee71b" stroke="#938d1c" stroke-width="1.25"/>
<ellipse cx="606.6" cy="338.2" rx="5.4" ry="5.95" fill="#eee71b" stroke="#938d1c" stroke-width="1.25"/>
<ellipse cx="561.4" cy="343.8" rx="5.4" ry="5.95" fill="#eee71b" stroke="#938d1c" stroke-width="1.25"/>
<ellipse cx="621.4" cy="344.5" rx="5.4" ry="5.95" fill="#eee71b" stroke="#938d1c" stroke-width="1.25"/>
<ellipse cx="625.7" cy="352.0" rx="5.4" ry="5.95" fill="#ee3048" stroke="#bd172d" stroke-width="1.25"/>
<ellipse cx="620.1" cy="364.2" rx="5.4" ry="5.95" fill="#ee3048" stroke="#bd172d" stroke-width="1.25"/>
<ellipse cx="551.3" cy="368.9" rx="5.4" ry="5.95" fill="#eee71b" stroke="#938d1c" stroke-width="1.25"/>
<ellipse cx="556.4" cy="375.9" rx="5.4" ry="5.95" fill="#eee71b" stroke="#938d1c" stroke-width="1.25"/>
<ellipse cx="570.1" cy="366.9" rx="5.4" ry="5.95" fill="#eee71b" stroke="#938d1c" stroke-width="1.25"/>
<ellipse cx="573.8" cy="370.2" rx="5.4" ry="5.95" fill="#eee71b" stroke="#938d1c" stroke-width="1.25"/>
<ellipse cx="579.3" cy="378.2" rx="5.4" ry="5.95" fill="#eee71b" stroke="#938d1c" stroke-width="1.25"/>
<ellipse cx="599.3" cy="366.0" rx="5.4" ry="5.95" fill="#ee3048" stroke="#bd172d" stroke-width="1.25"/>
<ellipse cx="597.5" cy="354.2" rx="5.4" ry="5.95" fill="#f58d3a" stroke="#d4621c" stroke-width="1.25"/>
<ellipse cx="602.2" cy="358.8" rx="5.4" ry="5.95" fill="#f58d3a" stroke="#d4621c" stroke-width="1.25"/>
<ellipse cx="587.6" cy="369.7" rx="5.4" ry="5.95" fill="#f58d3a" stroke="#d4621c" stroke-width="1.25"/>
<ellipse cx="602.0" cy="371.8" rx="5.4" ry="5.95" fill="#f58d3a" stroke="#d4621c" stroke-width="1.25"/>
<ellipse cx="590.8" cy="375.5" rx="5.4" ry="5.95" fill="#eee71b" stroke="#938d1c" stroke-width="1.25"/>
<ellipse cx="592.4" cy="378.2" rx="5.4" ry="5.95" fill="#ee3048" stroke="#bd172d" stroke-width="1.25"/>
<ellipse cx="597.2" cy="381.4" rx="5.4" ry="5.95" fill="#ee3048" stroke="#bd172d" stroke-width="1.25"/>
<ellipse cx="556.4" cy="396.8" rx="5.4" ry="5.95" fill="#eee71b" stroke="#938d1c" stroke-width="1.25"/>
<ellipse cx="590.1" cy="394.3" rx="5.4" ry="5.95" fill="#f58d3a" stroke="#d4621c" stroke-width="1.25"/>
<ellipse cx="1155.0" cy="217.5" rx="5.4" ry="5.95" fill="#eee71b" stroke="#938d1c" stroke-width="1.25"/>
<ellipse cx="1177.6" cy="217.0" rx="5.4" ry="5.95" fill="#eee71b" stroke="#938d1c" stroke-width="1.25"/>
<ellipse cx="1183.0" cy="221.4" rx="5.4" ry="5.95" fill="#eee71b" stroke="#938d1c" stroke-width="1.25"/>
<ellipse cx="1165.4" cy="231.3" rx="5.4" ry="5.95" fill="#eee71b" stroke="#938d1c" stroke-width="1.25"/>
<ellipse cx="1195.3" cy="229.1" rx="5.4" ry="5.95" fill="#eee71b" stroke="#938d1c" stroke-width="1.25"/>
<ellipse cx="1197.8" cy="235.0" rx="5.4" ry="5.95" fill="#eee71b" stroke="#938d1c" stroke-width="1.25"/>
<ellipse cx="1149.5" cy="235.6" rx="5.4" ry="5.95" fill="#eee71b" stroke="#938d1c" stroke-width="1.25"/>
<ellipse cx="1156.1" cy="234.8" rx="5.4" ry="5.95" fill="#eee71b" stroke="#938d1c" stroke-width="1.25"/>
<ellipse cx="1152.0" cy="240.5" rx="5.4" ry="5.95" fill="#f58d3a" stroke="#d4621c" stroke-width="1.25"/>
<ellipse cx="1148.7" cy="246.3" rx="5.4" ry="5.95" fill="#eee71b" stroke="#938d1c" stroke-width="1.25"/>
<ellipse cx="1152.0" cy="247.9" rx="5.4" ry="5.95" fill="#eee71b" stroke="#938d1c" stroke-width="1.25"/>
<ellipse cx="1160.2" cy="244.2" rx="5.4" ry="5.95" fill="#f58d3a" stroke="#d4621c" stroke-width="1.25"/>
<ellipse cx="1186.3" cy="247.5" rx="5.4" ry="5.95" fill="#f58d3a" stroke="#d4621c" stroke-width="1.25"/>
<ellipse cx="1137.3" cy="257.3" rx="5.4" ry="5.95" fill="#eee71b" stroke="#938d1c" stroke-width="1.25"/>
<ellipse cx="1133.2" cy="254.0" rx="5.4" ry="5.95" fill="#3ab54a" stroke="#11692b" stroke-width="1.25"/>
<ellipse cx="1138.9" cy="253.2" rx="5.4" ry="5.95" fill="#3ab54a" stroke="#11692b" stroke-width="1.25"/>
<ellipse cx="1147.1" cy="257.3" rx="5.4" ry="5.95" fill="#f58d3a" stroke="#d4621c" stroke-width="1.25"/>
<ellipse cx="1153.6" cy="264.6" rx="5.4" ry="5.95" fill="#eee71b" stroke="#938d1c" stroke-width="1.25"/>
<ellipse cx="1156.5" cy="260.1" rx="5.4" ry="5.95" fill="#f58d3a" stroke="#d4621c" stroke-width="1.25"/>
<ellipse cx="1165.9" cy="255.5" rx="5.4" ry="5.95" fill="#eee71b" stroke="#938d1c" stroke-width="1.25"/>
<ellipse cx="1169.6" cy="263.4" rx="5.4" ry="5.95" fill="#eee71b" stroke="#938d1c" stroke-width="1.25"/>
<ellipse cx="1163.0" cy="269.1" rx="5.4" ry="5.95" fill="#eee71b" stroke="#938d1c" stroke-width="1.25"/>
<ellipse cx="1160.2" cy="272.8" rx="5.4" ry="5.95" fill="#eee71b" stroke="#938d1c" stroke-width="1.25"/>
<ellipse cx="1174.1" cy="262.2" rx="5.4" ry="5.95" fill="#f58d3a" stroke="#d4621c" stroke-width="1.25"/>
<ellipse cx="1179.4" cy="258.9" rx="5.4" ry="5.95" fill="#f58d3a" stroke="#d4621c" stroke-width="1.25"/>
<ellipse cx="1189.8" cy="259.7" rx="5.4" ry="5.95" fill="#f58d3a" stroke="#d4621c" stroke-width="1.25"/>
<ellipse cx="1179.0" cy="269.5" rx="5.4" ry="5.95" fill="#f58d3a" stroke="#d4621c" stroke-width="1.25"/>
<ellipse cx="1200.3" cy="265.5" rx="5.4" ry="5.95" fill="#3ab54a" stroke="#11692b" stroke-width="1.25"/>
<ellipse cx="1200.3" cy="268.7" rx="5.4" ry="5.95" fill="#3ab54a" stroke="#11692b" stroke-width="1.25"/>
<ellipse cx="1138.1" cy="269.1" rx="5.4" ry="5.95" fill="#3ab54a" stroke="#11692b" stroke-width="1.25"/>
<ellipse cx="1145.5" cy="275.3" rx="5.4" ry="5.95" fill="#f58d3a" stroke="#d4621c" stroke-width="1.25"/>
<ellipse cx="1148.7" cy="275.3" rx="5.4" ry="5.95" fill="#3ab54a" stroke="#11692b" stroke-width="1.25"/>
<ellipse cx="1149.5" cy="277.7" rx="5.4" ry="5.95" fill="#eee71b" stroke="#938d1c" stroke-width="1.25"/>
<ellipse cx="1158.5" cy="281.0" rx="5.4" ry="5.95" fill="#eee71b" stroke="#938d1c" stroke-width="1.25"/>
<ellipse cx="1101.3" cy="307.5" rx="5.4" ry="5.95" fill="#4467b8" stroke="#2443a0" stroke-width="1.25"/>
<ellipse cx="1104.5" cy="297.5" rx="5.4" ry="5.95" fill="#4467b8" stroke="#2443a0" stroke-width="1.25"/>
<ellipse cx="1111.0" cy="287.0" rx="5.4" ry="5.95" fill="#4467b8" stroke="#2443a0" stroke-width="1.25"/>
<ellipse cx="1108.5" cy="299.4" rx="5.4" ry="5.95" fill="#3ab54a" stroke="#11692b" stroke-width="1.25"/>
<ellipse cx="1109.5" cy="295.2" rx="5.4" ry="5.95" fill="#3ab54a" stroke="#11692b" stroke-width="1.25"/>
<ellipse cx="1106.3" cy="299.5" rx="5.4" ry="5.95" fill="#3ab54a" stroke="#11692b" stroke-width="1.25"/>
<ellipse cx="1109.0" cy="296.9" rx="5.4" ry="5.95" fill="#3ab54a" stroke="#11692b" stroke-width="1.25"/>
<ellipse cx="1107.4" cy="301.5" rx="5.4" ry="5.95" fill="#4467b8" stroke="#2443a0" stroke-width="1.25"/>
<ellipse cx="1114.5" cy="285.6" rx="5.4" ry="5.95" fill="#3ab54a" stroke="#11692b" stroke-width="1.25"/>
<ellipse cx="1107.6" cy="296.1" rx="5.4" ry="5.95" fill="#3ab54a" stroke="#11692b" stroke-width="1.25"/>
<ellipse cx="1113.5" cy="289.7" rx="5.4" ry="5.95" fill="#3ab54a" stroke="#11692b" stroke-width="1.25"/>
<ellipse cx="1111.7" cy="293.9" rx="5.4" ry="5.95" fill="#3ab54a" stroke="#11692b" stroke-width="1.25"/>
<ellipse cx="1102.5" cy="312.0" rx="5.4" ry="5.95" fill="#4467b8" stroke="#2443a0" stroke-width="1.25"/>
<ellipse cx="1106.4" cy="306.2" rx="5.4" ry="5.95" fill="#3ab54a" stroke="#11692b" stroke-width="1.25"/>
<ellipse cx="1108.7" cy="303.1" rx="5.4" ry="5.95" fill="#3ab54a" stroke="#11692b" stroke-width="1.25"/>
<ellipse cx="1110.7" cy="296.3" rx="5.4" ry="5.95" fill="#3ab54a" stroke="#11692b" stroke-width="1.25"/>
<ellipse cx="1111.6" cy="291.8" rx="5.4" ry="5.95" fill="#3ab54a" stroke="#11692b" stroke-width="1.25"/>
<ellipse cx="1112.4" cy="289.0" rx="5.4" ry="5.95" fill="#4467b8" stroke="#2443a0" stroke-width="1.25"/>
<ellipse cx="1106.2" cy="309.7" rx="5.4" ry="5.95" fill="#3ab54a" stroke="#11692b" stroke-width="1.25"/>
<ellipse cx="1108.9" cy="305.6" rx="5.4" ry="5.95" fill="#3ab54a" stroke="#11692b" stroke-width="1.25"/>
<ellipse cx="1113.1" cy="292.0" rx="5.4" ry="5.95" fill="#3ab54a" stroke="#11692b" stroke-width="1.25"/>
<ellipse cx="1106.3" cy="318.1" rx="5.4" ry="5.95" fill="#3ab54a" stroke="#11692b" stroke-width="1.25"/>
<ellipse cx="1111.5" cy="303.3" rx="5.4" ry="5.95" fill="#3ab54a" stroke="#11692b" stroke-width="1.25"/>
<ellipse cx="1106.1" cy="316.8" rx="5.4" ry="5.95" fill="#3ab54a" stroke="#11692b" stroke-width="1.25"/>
<ellipse cx="1107.1" cy="307.0" rx="5.4" ry="5.95" fill="#3ab54a" stroke="#11692b" stroke-width="1.25"/>
<ellipse cx="1110.9" cy="305.6" rx="5.4" ry="5.95" fill="#3ab54a" stroke="#11692b" stroke-width="1.25"/>
<ellipse cx="1115.7" cy="291.0" rx="5.4" ry="5.95" fill="#4467b8" stroke="#2443a0" stroke-width="1.25"/>
<ellipse cx="1105.4" cy="314.9" rx="5.4" ry="5.95" fill="#3ab54a" stroke="#11692b" stroke-width="1.25"/>
<ellipse cx="1113.1" cy="293.7" rx="5.4" ry="5.95" fill="#3ab54a" stroke="#11692b" stroke-width="1.25"/>
<ellipse cx="1109.1" cy="306.8" rx="5.4" ry="5.95" fill="#4467b8" stroke="#2443a0" stroke-width="1.25"/>
<ellipse cx="1111.0" cy="306.9" rx="5.4" ry="5.95" fill="#3ab54a" stroke="#11692b" stroke-width="1.25"/>
<ellipse cx="1111.4" cy="299.6" rx="5.4" ry="5.95" fill="#3ab54a" stroke="#11692b" stroke-width="1.25"/>
<ellipse cx="1115.8" cy="286.7" rx="5.4" ry="5.95" fill="#3ab54a" stroke="#11692b" stroke-width="1.25"/>
<ellipse cx="1106.3" cy="321.2" rx="5.4" ry="5.95" fill="#3ab54a" stroke="#11692b" stroke-width="1.25"/>
<ellipse cx="1108.5" cy="314.7" rx="5.4" ry="5.95" fill="#3ab54a" stroke="#11692b" stroke-width="1.25"/>
<ellipse cx="1106.4" cy="313.4" rx="5.4" ry="5.95" fill="#eee71b" stroke="#938d1c" stroke-width="1.25"/>
<ellipse cx="1117.9" cy="285.5" rx="5.4" ry="5.95" fill="#3ab54a" stroke="#11692b" stroke-width="1.25"/>
<ellipse cx="1108.6" cy="314.0" rx="5.4" ry="5.95" fill="#3ab54a" stroke="#11692b" stroke-width="1.25"/>
<ellipse cx="1115.6" cy="289.5" rx="5.4" ry="5.95" fill="#4467b8" stroke="#2443a0" stroke-width="1.25"/>
<ellipse cx="1117.8" cy="284.0" rx="5.4" ry="5.95" fill="#3ab54a" stroke="#11692b" stroke-width="1.25"/>
<ellipse cx="1113.3" cy="302.3" rx="5.4" ry="5.95" fill="#3ab54a" stroke="#11692b" stroke-width="1.25"/>
<ellipse cx="1118.0" cy="291.7" rx="5.4" ry="5.95" fill="#3ab54a" stroke="#11692b" stroke-width="1.25"/>
<ellipse cx="1109.2" cy="310.7" rx="5.4" ry="5.95" fill="#3ab54a" stroke="#11692b" stroke-width="1.25"/>
<ellipse cx="1116.6" cy="295.8" rx="5.4" ry="5.95" fill="#3ab54a" stroke="#11692b" stroke-width="1.25"/>
<ellipse cx="1114.1" cy="298.6" rx="5.4" ry="5.95" fill="#3ab54a" stroke="#11692b" stroke-width="1.25"/>
<ellipse cx="1111.0" cy="312.5" rx="5.4" ry="5.95" fill="#3ab54a" stroke="#11692b" stroke-width="1.25"/>
<ellipse cx="1107.4" cy="324.5" rx="5.4" ry="5.95" fill="#3ab54a" stroke="#11692b" stroke-width="1.25"/>
<ellipse cx="1114.4" cy="304.4" rx="5.4" ry="5.95" fill="#3ab54a" stroke="#11692b" stroke-width="1.25"/>
<ellipse cx="1106.1" cy="326.3" rx="5.4" ry="5.95" fill="#eee71b" stroke="#938d1c" stroke-width="1.25"/>
<ellipse cx="1115.2" cy="301.5" rx="5.4" ry="5.95" fill="#3ab54a" stroke="#11692b" stroke-width="1.25"/>
<ellipse cx="1121.2" cy="281.7" rx="5.4" ry="5.95" fill="#3ab54a" stroke="#11692b" stroke-width="1.25"/>
<ellipse cx="1114.6" cy="295.8" rx="5.4" ry="5.95" fill="#3ab54a" stroke="#11692b" stroke-width="1.25"/>
<ellipse cx="1108.2" cy="317.9" rx="5.4" ry="5.95" fill="#3ab54a" stroke="#11692b" stroke-width="1.25"/>
<ellipse cx="1119.8" cy="282.3" rx="5.4" ry="5.95" fill="#3ab54a" stroke="#11692b" stroke-width="1.25"/>
<ellipse cx="1117.6" cy="289.0" rx="5.4" ry="5.95" fill="#3ab54a" stroke="#11692b" stroke-width="1.25"/>
<ellipse cx="1120.1" cy="288.5" rx="5.4" ry="5.95" fill="#3ab54a" stroke="#11692b" stroke-width="1.25"/>
<ellipse cx="1117.0" cy="293.3" rx="5.4" ry="5.95" fill="#3ab54a" stroke="#11692b" stroke-width="1.25"/>
<ellipse cx="1110.8" cy="309.9" rx="5.4" ry="5.95" fill="#3ab54a" stroke="#11692b" stroke-width="1.25"/>
<ellipse cx="1109.9" cy="320.6" rx="5.4" ry="5.95" fill="#4467b8" stroke="#2443a0" stroke-width="1.25"/>
<ellipse cx="1107.3" cy="329.6" rx="5.4" ry="5.95" fill="#3ab54a" stroke="#11692b" stroke-width="1.25"/>
<ellipse cx="1119.0" cy="295.3" rx="5.4" ry="5.95" fill="#3ab54a" stroke="#11692b" stroke-width="1.25"/>
<ellipse cx="1116.7" cy="299.6" rx="5.4" ry="5.95" fill="#3ab54a" stroke="#11692b" stroke-width="1.25"/>
<ellipse cx="1121.5" cy="286.3" rx="5.4" ry="5.95" fill="#3ab54a" stroke="#11692b" stroke-width="1.25"/>
<ellipse cx="1108.9" cy="323.5" rx="5.4" ry="5.95" fill="#3ab54a" stroke="#11692b" stroke-width="1.25"/>
<ellipse cx="1117.6" cy="297.1" rx="5.4" ry="5.95" fill="#3ab54a" stroke="#11692b" stroke-width="1.25"/>
<ellipse cx="1117.1" cy="305.2" rx="5.4" ry="5.95" fill="#3ab54a" stroke="#11692b" stroke-width="1.25"/>
<ellipse cx="1114.1" cy="308.6" rx="5.4" ry="5.95" fill="#3ab54a" stroke="#11692b" stroke-width="1.25"/>
<ellipse cx="1120.0" cy="295.3" rx="5.4" ry="5.95" fill="#eee71b" stroke="#938d1c" stroke-width="1.25"/>
<ellipse cx="1120.5" cy="292.4" rx="5.4" ry="5.95" fill="#eee71b" stroke="#938d1c" stroke-width="1.25"/>
<ellipse cx="1112.9" cy="311.3" rx="5.4" ry="5.95" fill="#3ab54a" stroke="#11692b" stroke-width="1.25"/>
<ellipse cx="1106.0" cy="338.2" rx="5.4" ry="5.95" fill="#4467b8" stroke="#2443a0" stroke-width="1.25"/>
<ellipse cx="1122.7" cy="284.6" rx="5.4" ry="5.95" fill="#4467b8" stroke="#2443a0" stroke-width="1.25"/>
<ellipse cx="1115.9" cy="307.1" rx="5.4" ry="5.95" fill="#3ab54a" stroke="#11692b" stroke-width="1.25"/>
<ellipse cx="1108.8" cy="329.6" rx="5.4" ry="5.95" fill="#3ab54a" stroke="#11692b" stroke-width="1.25"/>
<ellipse cx="1123.9" cy="279.6" rx="5.4" ry="5.95" fill="#3ab54a" stroke="#11692b" stroke-width="1.25"/>
<ellipse cx="1122.4" cy="288.2" rx="5.4" ry="5.95" fill="#3ab54a" stroke="#11692b" stroke-width="1.25"/>
<ellipse cx="1107.5" cy="332.0" rx="5.4" ry="5.95" fill="#eee71b" stroke="#938d1c" stroke-width="1.25"/>
<ellipse cx="1111.1" cy="320.5" rx="5.4" ry="5.95" fill="#3ab54a" stroke="#11692b" stroke-width="1.25"/>
<ellipse cx="1124.8" cy="286.8" rx="5.4" ry="5.95" fill="#eee71b" stroke="#938d1c" stroke-width="1.25"/>
<ellipse cx="1114.3" cy="314.8" rx="5.4" ry="5.95" fill="#3ab54a" stroke="#11692b" stroke-width="1.25"/>
<ellipse cx="1116.5" cy="309.2" rx="5.4" ry="5.95" fill="#4467b8" stroke="#2443a0" stroke-width="1.25"/>
<ellipse cx="1111.9" cy="318.2" rx="5.4" ry="5.95" fill="#3ab54a" stroke="#11692b" stroke-width="1.25"/>
<ellipse cx="1111.9" cy="316.1" rx="5.4" ry="5.95" fill="#3ab54a" stroke="#11692b" stroke-width="1.25"/>
<ellipse cx="1121.0" cy="296.4" rx="5.4" ry="5.95" fill="#3ab54a" stroke="#11692b" stroke-width="1.25"/>
<ellipse cx="1125.1" cy="280.6" rx="5.4" ry="5.95" fill="#f58d3a" stroke="#d4621c" stroke-width="1.25"/>
<ellipse cx="1122.7" cy="290.8" rx="5.4" ry="5.95" fill="#3ab54a" stroke="#11692b" stroke-width="1.25"/>
<ellipse cx="1113.8" cy="320.3" rx="5.4" ry="5.95" fill="#3ab54a" stroke="#11692b" stroke-width="1.25"/>
<ellipse cx="1118.4" cy="299.3" rx="5.4" ry="5.95" fill="#4467b8" stroke="#2443a0" stroke-width="1.25"/>
<ellipse cx="1112.2" cy="324.3" rx="5.4" ry="5.95" fill="#3ab54a" stroke="#11692b" stroke-width="1.25"/>
<ellipse cx="1125.3" cy="281.8" rx="5.4" ry="5.95" fill="#4467b8" stroke="#2443a0" stroke-width="1.25"/>
<ellipse cx="1107.2" cy="334.6" rx="5.4" ry="5.95" fill="#3ab54a" stroke="#11692b" stroke-width="1.25"/>
<ellipse cx="1126.1" cy="276.9" rx="5.4" ry="5.95" fill="#3ab54a" stroke="#11692b" stroke-width="1.25"/>
<ellipse cx="1109.8" cy="327.2" rx="5.4" ry="5.95" fill="#3ab54a" stroke="#11692b" stroke-width="1.25"/>
<ellipse cx="1114.7" cy="313.7" rx="5.4" ry="5.95" fill="#3ab54a" stroke="#11692b" stroke-width="1.25"/>
<ellipse cx="1122.8" cy="287.3" rx="5.4" ry="5.95" fill="#3ab54a" stroke="#11692b" stroke-width="1.25"/>
<ellipse cx="1126.3" cy="282.8" rx="5.4" ry="5.95" fill="#3ab54a" stroke="#11692b" stroke-width="1.25"/>
<ellipse cx="1124.7" cy="290.3" rx="5.4" ry="5.95" fill="#f58d3a" stroke="#d4621c" stroke-width="1.25"/>
<ellipse cx="1106.9" cy="332.3" rx="5.4" ry="5.95" fill="#3ab54a" stroke="#11692b" stroke-width="1.25"/>
<ellipse cx="1125.2" cy="286.4" rx="5.4" ry="5.95" fill="#3ab54a" stroke="#11692b" stroke-width="1.25"/>
<ellipse cx="1118.7" cy="307.8" rx="5.4" ry="5.95" fill="#3ab54a" stroke="#11692b" stroke-width="1.25"/>
<ellipse cx="1108.7" cy="335.8" rx="5.4" ry="5.95" fill="#3ab54a" stroke="#11692b" stroke-width="1.25"/>
<ellipse cx="1110.9" cy="326.9" rx="5.4" ry="5.95" fill="#3ab54a" stroke="#11692b" stroke-width="1.25"/>
<ellipse cx="1123.0" cy="293.1" rx="5.4" ry="5.95" fill="#4467b8" stroke="#2443a0" stroke-width="1.25"/>
<ellipse cx="1120.0" cy="303.0" rx="5.4" ry="5.95" fill="#3ab54a" stroke="#11692b" stroke-width="1.25"/>
<ellipse cx="1119.3" cy="302.7" rx="5.4" ry="5.95" fill="#4467b8" stroke="#2443a0" stroke-width="1.25"/>
<ellipse cx="1115.8" cy="316.6" rx="5.4" ry="5.95" fill="#3ab54a" stroke="#11692b" stroke-width="1.25"/>
<ellipse cx="1107.7" cy="341.7" rx="5.4" ry="5.95" fill="#3ab54a" stroke="#11692b" stroke-width="1.25"/>
<ellipse cx="1109.8" cy="336.5" rx="5.4" ry="5.95" fill="#3ab54a" stroke="#11692b" stroke-width="1.25"/>
<ellipse cx="1118.0" cy="303.8" rx="5.4" ry="5.95" fill="#3ab54a" stroke="#11692b" stroke-width="1.25"/>
<ellipse cx="1120.0" cy="300.5" rx="5.4" ry="5.95" fill="#eee71b" stroke="#938d1c" stroke-width="1.25"/>
<ellipse cx="1118.9" cy="310.3" rx="5.4" ry="5.95" fill="#3ab54a" stroke="#11692b" stroke-width="1.25"/>
<ellipse cx="1111.3" cy="330.0" rx="5.4" ry="5.95" fill="#3ab54a" stroke="#11692b" stroke-width="1.25"/>
<ellipse cx="1107.7" cy="340.2" rx="5.4" ry="5.95" fill="#3ab54a" stroke="#11692b" stroke-width="1.25"/>
<ellipse cx="1109.2" cy="331.8" rx="5.4" ry="5.95" fill="#4467b8" stroke="#2443a0" stroke-width="1.25"/>
<ellipse cx="1123.5" cy="300.4" rx="5.4" ry="5.95" fill="#3ab54a" stroke="#11692b" stroke-width="1.25"/>
<ellipse cx="1113.2" cy="326.3" rx="5.4" ry="5.95" fill="#3ab54a" stroke="#11692b" stroke-width="1.25"/>
<ellipse cx="1116.3" cy="323.0" rx="5.4" ry="5.95" fill="#3ab54a" stroke="#11692b" stroke-width="1.25"/>
<ellipse cx="1113.1" cy="323.8" rx="5.4" ry="5.95" fill="#3ab54a" stroke="#11692b" stroke-width="1.25"/>
<ellipse cx="1123.1" cy="302.6" rx="5.4" ry="5.95" fill="#3ab54a" stroke="#11692b" stroke-width="1.25"/>
<ellipse cx="1114.7" cy="318.5" rx="5.4" ry="5.95" fill="#4467b8" stroke="#2443a0" stroke-width="1.25"/>
<ellipse cx="1120.6" cy="309.7" rx="5.4" ry="5.95" fill="#3ab54a" stroke="#11692b" stroke-width="1.25"/>
<ellipse cx="1107.0" cy="344.4" rx="5.4" ry="5.95" fill="#3ab54a" stroke="#11692b" stroke-width="1.25"/>
<ellipse cx="1108.7" cy="339.2" rx="5.4" ry="5.95" fill="#3ab54a" stroke="#11692b" stroke-width="1.25"/>
<ellipse cx="1109.5" cy="342.4" rx="5.4" ry="5.95" fill="#3ab54a" stroke="#11692b" stroke-width="1.25"/>
<ellipse cx="1116.9" cy="312.7" rx="5.4" ry="5.95" fill="#3ab54a" stroke="#11692b" stroke-width="1.25"/>
<ellipse cx="1130.8" cy="281.4" rx="5.4" ry="5.95" fill="#eee71b" stroke="#938d1c" stroke-width="1.25"/>
<ellipse cx="1120.0" cy="305.3" rx="5.4" ry="5.95" fill="#3ab54a" stroke="#11692b" stroke-width="1.25"/>
<ellipse cx="1125.1" cy="295.2" rx="5.4" ry="5.95" fill="#eee71b" stroke="#938d1c" stroke-width="1.25"/>
<ellipse cx="1116.3" cy="317.4" rx="5.4" ry="5.95" fill="#3ab54a" stroke="#11692b" stroke-width="1.25"/>
<ellipse cx="1123.2" cy="296.7" rx="5.4" ry="5.95" fill="#3ab54a" stroke="#11692b" stroke-width="1.25"/>
<ellipse cx="1125.6" cy="288.1" rx="5.4" ry="5.95" fill="#3ab54a" stroke="#11692b" stroke-width="1.25"/>
<ellipse cx="1123.0" cy="305.9" rx="5.4" ry="5.95" fill="#3ab54a" stroke="#11692b" stroke-width="1.25"/>
<ellipse cx="1115.3" cy="321.9" rx="5.4" ry="5.95" fill="#3ab54a" stroke="#11692b" stroke-width="1.25"/>
<ellipse cx="1110.9" cy="332.4" rx="5.4" ry="5.95" fill="#3ab54a" stroke="#11692b" stroke-width="1.25"/>
<ellipse cx="1121.0" cy="307.6" rx="5.4" ry="5.95" fill="#4467b8" stroke="#2443a0" stroke-width="1.25"/>
<ellipse cx="1122.5" cy="309.3" rx="5.4" ry="5.95" fill="#3ab54a" stroke="#11692b" stroke-width="1.25"/>
<ellipse cx="1123.5" cy="307.1" rx="5.4" ry="5.95" fill="#4467b8" stroke="#2443a0" stroke-width="1.25"/>
<ellipse cx="1110.6" cy="340.0" rx="5.4" ry="5.95" fill="#3ab54a" stroke="#11692b" stroke-width="1.25"/>
<ellipse cx="1108.2" cy="344.8" rx="5.4" ry="5.95" fill="#3ab54a" stroke="#11692b" stroke-width="1.25"/>
<ellipse cx="1125.2" cy="296.8" rx="5.4" ry="5.95" fill="#3ab54a" stroke="#11692b" stroke-width="1.25"/>
<ellipse cx="1114.1" cy="328.7" rx="5.4" ry="5.95" fill="#3ab54a" stroke="#11692b" stroke-width="1.25"/>
<ellipse cx="1106.6" cy="353.9" rx="5.4" ry="5.95" fill="#3ab54a" stroke="#11692b" stroke-width="1.25"/>
<ellipse cx="1107.5" cy="352.0" rx="5.4" ry="5.95" fill="#eee71b" stroke="#938d1c" stroke-width="1.25"/>
<ellipse cx="1106.5" cy="348.0" rx="5.4" ry="5.95" fill="#3ab54a" stroke="#11692b" stroke-width="1.25"/>
<ellipse cx="1111.8" cy="335.5" rx="5.4" ry="5.95" fill="#3ab54a" stroke="#11692b" stroke-width="1.25"/>
<ellipse cx="1125.0" cy="297.2" rx="5.4" ry="5.95" fill="#3ab54a" stroke="#11692b" stroke-width="1.25"/>
<ellipse cx="1119.2" cy="314.8" rx="5.4" ry="5.95" fill="#4467b8" stroke="#2443a0" stroke-width="1.25"/>
<ellipse cx="1106.4" cy="351.5" rx="5.4" ry="5.95" fill="#3ab54a" stroke="#11692b" stroke-width="1.25"/>
<ellipse cx="1121.0" cy="314.2" rx="5.4" ry="5.95" fill="#3ab54a" stroke="#11692b" stroke-width="1.25"/>
<ellipse cx="1115.9" cy="327.3" rx="5.4" ry="5.95" fill="#3ab54a" stroke="#11692b" stroke-width="1.25"/>
<ellipse cx="1124.9" cy="302.1" rx="5.4" ry="5.95" fill="#4467b8" stroke="#2443a0" stroke-width="1.25"/>
<ellipse cx="1110.1" cy="347.1" rx="5.4" ry="5.95" fill="#3ab54a" stroke="#11692b" stroke-width="1.25"/>
<ellipse cx="1119.0" cy="321.5" rx="5.4" ry="5.95" fill="#3ab54a" stroke="#11692b" stroke-width="1.25"/>
<ellipse cx="1111.8" cy="336.2" rx="5.4" ry="5.95" fill="#3ab54a" stroke="#11692b" stroke-width="1.25"/>
<ellipse cx="1126.3" cy="299.6" rx="5.4" ry="5.95" fill="#4467b8" stroke="#2443a0" stroke-width="1.25"/>
<ellipse cx="1126.9" cy="290.3" rx="5.4" ry="5.95" fill="#3ab54a" stroke="#11692b" stroke-width="1.25"/>
<ellipse cx="1119.2" cy="313.4" rx="5.4" ry="5.95" fill="#3ab54a" stroke="#11692b" stroke-width="1.25"/>
<ellipse cx="1116.0" cy="329.6" rx="5.4" ry="5.95" fill="#3ab54a" stroke="#11692b" stroke-width="1.25"/>
<ellipse cx="1111.7" cy="345.9" rx="5.4" ry="5.95" fill="#3ab54a" stroke="#11692b" stroke-width="1.25"/>
<ellipse cx="1126.0" cy="302.4" rx="5.4" ry="5.95" fill="#3ab54a" stroke="#11692b" stroke-width="1.25"/>
<ellipse cx="1113.8" cy="340.1" rx="5.4" ry="5.95" fill="#3ab54a" stroke="#11692b" stroke-width="1.25"/>
<ellipse cx="1111.2" cy="342.7" rx="5.4" ry="5.95" fill="#3ab54a" stroke="#11692b" stroke-width="1.25"/>
<ellipse cx="1115.3" cy="336.5" rx="5.4" ry="5.95" fill="#3ab54a" stroke="#11692b" stroke-width="1.25"/>
<ellipse cx="1118.3" cy="319.2" rx="5.4" ry="5.95" fill="#3ab54a" stroke="#11692b" stroke-width="1.25"/>
<ellipse cx="1109.0" cy="353.3" rx="5.4" ry="5.95" fill="#3ab54a" stroke="#11692b" stroke-width="1.25"/>
<ellipse cx="1121.5" cy="316.9" rx="5.4" ry="5.95" fill="#3ab54a" stroke="#11692b" stroke-width="1.25"/>
<ellipse cx="1114.3" cy="331.1" rx="5.4" ry="5.95" fill="#eee71b" stroke="#938d1c" stroke-width="1.25"/>
<ellipse cx="1108.3" cy="351.6" rx="5.4" ry="5.95" fill="#3ab54a" stroke="#11692b" stroke-width="1.25"/>
<ellipse cx="1124.8" cy="305.4" rx="5.4" ry="5.95" fill="#3ab54a" stroke="#11692b" stroke-width="1.25"/>
<ellipse cx="1113.7" cy="334.2" rx="5.4" ry="5.95" fill="#3ab54a" stroke="#11692b" stroke-width="1.25"/>
<ellipse cx="1125.3" cy="306.3" rx="5.4" ry="5.95" fill="#3ab54a" stroke="#11692b" stroke-width="1.25"/>
<ellipse cx="1118.4" cy="326.9" rx="5.4" ry="5.95" fill="#3ab54a" stroke="#11692b" stroke-width="1.25"/>
<ellipse cx="1120.5" cy="320.9" rx="5.4" ry="5.95" fill="#4467b8" stroke="#2443a0" stroke-width="1.25"/>
<ellipse cx="1115.4" cy="335.5" rx="5.4" ry="5.95" fill="#3ab54a" stroke="#11692b" stroke-width="1.25"/>
<ellipse cx="1114.7" cy="337.8" rx="5.4" ry="5.95" fill="#3ab54a" stroke="#11692b" stroke-width="1.25"/>
<ellipse cx="1130.6" cy="295.9" rx="5.4" ry="5.95" fill="#3ab54a" stroke="#11692b" stroke-width="1.25"/>
<ellipse cx="1114.3" cy="342.1" rx="5.4" ry="5.95" fill="#3ab54a" stroke="#11692b" stroke-width="1.25"/>
<ellipse cx="1118.8" cy="330.3" rx="5.4" ry="5.95" fill="#3ab54a" stroke="#11692b" stroke-width="1.25"/>
<ellipse cx="1107.7" cy="355.2" rx="5.4" ry="5.95" fill="#3ab54a" stroke="#11692b" stroke-width="1.25"/>
<ellipse cx="1115.8" cy="330.9" rx="5.4" ry="5.95" fill="#3ab54a" stroke="#11692b" stroke-width="1.25"/>
<ellipse cx="1109.8" cy="357.2" rx="5.4" ry="5.95" fill="#3ab54a" stroke="#11692b" stroke-width="1.25"/>
<ellipse cx="1119.2" cy="323.3" rx="5.4" ry="5.95" fill="#3ab54a" stroke="#11692b" stroke-width="1.25"/>
<ellipse cx="1112.2" cy="351.5" rx="5.4" ry="5.95" fill="#3ab54a" stroke="#11692b" stroke-width="1.25"/>
<ellipse cx="1124.4" cy="307.8" rx="5.4" ry="5.95" fill="#3ab54a" stroke="#11692b" stroke-width="1.25"/>
<ellipse cx="1132.0" cy="287.2" rx="5.4" ry="5.95" fill="#3ab54a" stroke="#11692b" stroke-width="1.25"/>
<ellipse cx="1122.4" cy="314.9" rx="5.4" ry="5.95" fill="#3ab54a" stroke="#11692b" stroke-width="1.25"/>
<ellipse cx="1107.7" cy="365.4" rx="5.4" ry="5.95" fill="#3ab54a" stroke="#11692b" stroke-width="1.25"/>
<ellipse cx="1110.6" cy="347.3" rx="5.4" ry="5.95" fill="#3ab54a" stroke="#11692b" stroke-width="1.25"/>
<ellipse cx="1116.8" cy="338.9" rx="5.4" ry="5.95" fill="#4467b8" stroke="#2443a0" stroke-width="1.25"/>
<ellipse cx="1131.7" cy="292.8" rx="5.4" ry="5.95" fill="#f58d3a" stroke="#d4621c" stroke-width="1.25"/>
<ellipse cx="1107.7" cy="359.1" rx="5.4" ry="5.95" fill="#3ab54a" stroke="#11692b" stroke-width="1.25"/>
<ellipse cx="1121.1" cy="318.6" rx="5.4" ry="5.95" fill="#3ab54a" stroke="#11692b" stroke-width="1.25"/>
<ellipse cx="1136.9" cy="281.3" rx="5.4" ry="5.95" fill="#3ab54a" stroke="#11692b" stroke-width="1.25"/>
<ellipse cx="1118.2" cy="330.8" rx="5.4" ry="5.95" fill="#3ab54a" stroke="#11692b" stroke-width="1.25"/>
<ellipse cx="1123.7" cy="313.6" rx="5.4" ry="5.95" fill="#4467b8" stroke="#2443a0" stroke-width="1.25"/>
<ellipse cx="1123.7" cy="317.5" rx="5.4" ry="5.95" fill="#3ab54a" stroke="#11692b" stroke-width="1.25"/>
<ellipse cx="1121.0" cy="330.0" rx="5.4" ry="5.95" fill="#3ab54a" stroke="#11692b" stroke-width="1.25"/>
<ellipse cx="1120.0" cy="326.8" rx="5.4" ry="5.95" fill="#3ab54a" stroke="#11692b" stroke-width="1.25"/>
<ellipse cx="1120.3" cy="324.4" rx="5.4" ry="5.95" fill="#4467b8" stroke="#2443a0" stroke-width="1.25"/>
<ellipse cx="1114.6" cy="345.8" rx="5.4" ry="5.95" fill="#3ab54a" stroke="#11692b" stroke-width="1.25"/>
<ellipse cx="1124.7" cy="320.6" rx="5.4" ry="5.95" fill="#f58d3a" stroke="#d4621c" stroke-width="1.25"/>
<ellipse cx="1115.1" cy="347.9" rx="5.4" ry="5.95" fill="#3ab54a" stroke="#11692b" stroke-width="1.25"/>
<ellipse cx="1108.7" cy="360.6" rx="5.4" ry="5.95" fill="#3ab54a" stroke="#11692b" stroke-width="1.25"/>
<ellipse cx="1124.6" cy="317.3" rx="5.4" ry="5.95" fill="#3ab54a" stroke="#11692b" stroke-width="1.25"/>
<ellipse cx="1125.8" cy="310.9" rx="5.4" ry="5.95" fill="#f58d3a" stroke="#d4621c" stroke-width="1.25"/>
<ellipse cx="1116.4" cy="346.0" rx="5.4" ry="5.95" fill="#3ab54a" stroke="#11692b" stroke-width="1.25"/>
<ellipse cx="1126.0" cy="316.5" rx="5.4" ry="5.95" fill="#eee71b" stroke="#938d1c" stroke-width="1.25"/>
<ellipse cx="1109.5" cy="360.0" rx="5.4" ry="5.95" fill="#eee71b" stroke="#938d1c" stroke-width="1.25"/>
<ellipse cx="1106.3" cy="371.5" rx="5.4" ry="5.95" fill="#3ab54a" stroke="#11692b" stroke-width="1.25"/>
<ellipse cx="1115.9" cy="342.9" rx="5.4" ry="5.95" fill="#3ab54a" stroke="#11692b" stroke-width="1.25"/>
<ellipse cx="1107.4" cy="362.5" rx="5.4" ry="5.95" fill="#eee71b" stroke="#938d1c" stroke-width="1.25"/>
<ellipse cx="1107.7" cy="366.2" rx="5.4" ry="5.95" fill="#3ab54a" stroke="#11692b" stroke-width="1.25"/>
<ellipse cx="1110.9" cy="360.7" rx="5.4" ry="5.95" fill="#3ab54a" stroke="#11692b" stroke-width="1.25"/>
<ellipse cx="1108.8" cy="369.2" rx="5.4" ry="5.95" fill="#3ab54a" stroke="#11692b" stroke-width="1.25"/>
<ellipse cx="1125.2" cy="313.6" rx="5.4" ry="5.95" fill="#3ab54a" stroke="#11692b" stroke-width="1.25"/>
<ellipse cx="1113.4" cy="352.5" rx="5.4" ry="5.95" fill="#eee71b" stroke="#938d1c" stroke-width="1.25"/>
<ellipse cx="1120.2" cy="334.5" rx="5.4" ry="5.95" fill="#3ab54a" stroke="#11692b" stroke-width="1.25"/>
<ellipse cx="1122.3" cy="323.1" rx="5.4" ry="5.95" fill="#3ab54a" stroke="#11692b" stroke-width="1.25"/>
<ellipse cx="1109.4" cy="358.3" rx="5.4" ry="5.95" fill="#3ab54a" stroke="#11692b" stroke-width="1.25"/>
<ellipse cx="1119.1" cy="334.1" rx="5.4" ry="5.95" fill="#3ab54a" stroke="#11692b" stroke-width="1.25"/>
<ellipse cx="1125.6" cy="312.5" rx="5.4" ry="5.95" fill="#3ab54a" stroke="#11692b" stroke-width="1.25"/>
<ellipse cx="1122.5" cy="331.3" rx="5.4" ry="5.95" fill="#3ab54a" stroke="#11692b" stroke-width="1.25"/>
<ellipse cx="1122.2" cy="322.1" rx="5.4" ry="5.95" fill="#3ab54a" stroke="#11692b" stroke-width="1.25"/>
<ellipse cx="1126.7" cy="316.6" rx="5.4" ry="5.95" fill="#3ab54a" stroke="#11692b" stroke-width="1.25"/>
<ellipse cx="1141.7" cy="276.0" rx="5.4" ry="5.95" fill="#3ab54a" stroke="#11692b" stroke-width="1.25"/>
<ellipse cx="1111.0" cy="357.1" rx="5.4" ry="5.95" fill="#3ab54a" stroke="#11692b" stroke-width="1.25"/>
<ellipse cx="1114.0" cy="349.2" rx="5.4" ry="5.95" fill="#3ab54a" stroke="#11692b" stroke-width="1.25"/>
<ellipse cx="1112.4" cy="354.3" rx="5.4" ry="5.95" fill="#3ab54a" stroke="#11692b" stroke-width="1.25"/>
<ellipse cx="1108.3" cy="365.1" rx="5.4" ry="5.95" fill="#3ab54a" stroke="#11692b" stroke-width="1.25"/>
<ellipse cx="1119.0" cy="337.0" rx="5.4" ry="5.95" fill="#3ab54a" stroke="#11692b" stroke-width="1.25"/>
<ellipse cx="1110.9" cy="359.5" rx="5.4" ry="5.95" fill="#3ab54a" stroke="#11692b" stroke-width="1.25"/>
<ellipse cx="1107.2" cy="369.1" rx="5.4" ry="5.95" fill="#3ab54a" stroke="#11692b" stroke-width="1.25"/>
<ellipse cx="1113.9" cy="358.8" rx="5.4" ry="5.95" fill="#3ab54a" stroke="#11692b" stroke-width="1.25"/>
<ellipse cx="1117.0" cy="350.3" rx="5.4" ry="5.95" fill="#eee71b" stroke="#938d1c" stroke-width="1.25"/>
<ellipse cx="1123.0" cy="330.4" rx="5.4" ry="5.95" fill="#3ab54a" stroke="#11692b" stroke-width="1.25"/>
<ellipse cx="1132.5" cy="302.6" rx="5.4" ry="5.95" fill="#3ab54a" stroke="#11692b" stroke-width="1.25"/>
<ellipse cx="1108.4" cy="368.1" rx="5.4" ry="5.95" fill="#3ab54a" stroke="#11692b" stroke-width="1.25"/>
<ellipse cx="1125.0" cy="324.0" rx="5.4" ry="5.95" fill="#3ab54a" stroke="#11692b" stroke-width="1.25"/>
<ellipse cx="1120.5" cy="332.5" rx="5.4" ry="5.95" fill="#3ab54a" stroke="#11692b" stroke-width="1.25"/>
<ellipse cx="1114.1" cy="351.4" rx="5.4" ry="5.95" fill="#3ab54a" stroke="#11692b" stroke-width="1.25"/>
<ellipse cx="1118.0" cy="343.6" rx="5.4" ry="5.95" fill="#3ab54a" stroke="#11692b" stroke-width="1.25"/>
<ellipse cx="1111.8" cy="365.6" rx="5.4" ry="5.95" fill="#3ab54a" stroke="#11692b" stroke-width="1.25"/>
<ellipse cx="1114.2" cy="357.3" rx="5.4" ry="5.95" fill="#3ab54a" stroke="#11692b" stroke-width="1.25"/>
<ellipse cx="1107.1" cy="378.0" rx="5.4" ry="5.95" fill="#3ab54a" stroke="#11692b" stroke-width="1.25"/>
<ellipse cx="1122.0" cy="335.2" rx="5.4" ry="5.95" fill="#3ab54a" stroke="#11692b" stroke-width="1.25"/>
<ellipse cx="1106.4" cy="383.4" rx="5.4" ry="5.95" fill="#3ab54a" stroke="#11692b" stroke-width="1.25"/>
<ellipse cx="1138.1" cy="290.9" rx="5.4" ry="5.95" fill="#3ab54a" stroke="#11692b" stroke-width="1.25"/>
<ellipse cx="1118.3" cy="340.3" rx="5.4" ry="5.95" fill="#3ab54a" stroke="#11692b" stroke-width="1.25"/>
<ellipse cx="1131.9" cy="308.4" rx="5.4" ry="5.95" fill="#f58d3a" stroke="#d4621c" stroke-width="1.25"/>
<ellipse cx="1108.4" cy="378.8" rx="5.4" ry="5.95" fill="#3ab54a" stroke="#11692b" stroke-width="1.25"/>
<ellipse cx="1109.1" cy="375.2" rx="5.4" ry="5.95" fill="#3ab54a" stroke="#11692b" stroke-width="1.25"/>
<ellipse cx="1127.1" cy="323.8" rx="5.4" ry="5.95" fill="#3ab54a" stroke="#11692b" stroke-width="1.25"/>
<ellipse cx="1118.8" cy="344.8" rx="5.4" ry="5.95" fill="#3ab54a" stroke="#11692b" stroke-width="1.25"/>
<ellipse cx="1121.5" cy="338.1" rx="5.4" ry="5.95" fill="#3ab54a" stroke="#11692b" stroke-width="1.25"/>
<ellipse cx="1138.1" cy="285.8" rx="5.4" ry="5.95" fill="#eee71b" stroke="#938d1c" stroke-width="1.25"/>
<ellipse cx="1120.7" cy="342.3" rx="5.4" ry="5.95" fill="#3ab54a" stroke="#11692b" stroke-width="1.25"/>
<ellipse cx="1123.5" cy="327.6" rx="5.4" ry="5.95" fill="#3ab54a" stroke="#11692b" stroke-width="1.25"/>
<ellipse cx="1106.8" cy="381.8" rx="5.4" ry="5.95" fill="#3ab54a" stroke="#11692b" stroke-width="1.25"/>
<ellipse cx="1126.1" cy="327.8" rx="5.4" ry="5.95" fill="#3ab54a" stroke="#11692b" stroke-width="1.25"/>
<ellipse cx="1113.9" cy="362.6" rx="5.4" ry="5.95" fill="#3ab54a" stroke="#11692b" stroke-width="1.25"/>
<ellipse cx="1111.2" cy="371.0" rx="5.4" ry="5.95" fill="#eee71b" stroke="#938d1c" stroke-width="1.25"/>
<ellipse cx="1118.8" cy="349.7" rx="5.4" ry="5.95" fill="#3ab54a" stroke="#11692b" stroke-width="1.25"/>
<ellipse cx="1125.4" cy="328.5" rx="5.4" ry="5.95" fill="#eee71b" stroke="#938d1c" stroke-width="1.25"/>
<ellipse cx="1121.4" cy="339.8" rx="5.4" ry="5.95" fill="#3ab54a" stroke="#11692b" stroke-width="1.25"/>
<ellipse cx="1136.9" cy="301.0" rx="5.4" ry="5.95" fill="#eee71b" stroke="#938d1c" stroke-width="1.25"/>
<ellipse cx="1123.9" cy="339.1" rx="5.4" ry="5.95" fill="#3ab54a" stroke="#11692b" stroke-width="1.25"/>
<ellipse cx="1113.1" cy="365.0" rx="5.4" ry="5.95" fill="#3ab54a" stroke="#11692b" stroke-width="1.25"/>
<ellipse cx="1115.3" cy="356.4" rx="5.4" ry="5.95" fill="#3ab54a" stroke="#11692b" stroke-width="1.25"/>
<ellipse cx="1115.4" cy="357.9" rx="5.4" ry="5.95" fill="#eee71b" stroke="#938d1c" stroke-width="1.25"/>
<ellipse cx="1141.7" cy="280.3" rx="5.4" ry="5.95" fill="#eee71b" stroke="#938d1c" stroke-width="1.25"/>
<ellipse cx="1109.4" cy="372.5" rx="5.4" ry="5.95" fill="#3ab54a" stroke="#11692b" stroke-width="1.25"/>
<ellipse cx="1130.4" cy="313.8" rx="5.4" ry="5.95" fill="#eee71b" stroke="#938d1c" stroke-width="1.25"/>
<ellipse cx="1111.8" cy="367.0" rx="5.4" ry="5.95" fill="#3ab54a" stroke="#11692b" stroke-width="1.25"/>
<ellipse cx="1125.4" cy="327.2" rx="5.4" ry="5.95" fill="#3ab54a" stroke="#11692b" stroke-width="1.25"/>
<ellipse cx="1106.8" cy="387.6" rx="5.4" ry="5.95" fill="#3ab54a" stroke="#11692b" stroke-width="1.25"/>
<ellipse cx="1126.7" cy="332.0" rx="5.4" ry="5.95" fill="#f58d3a" stroke="#d4621c" stroke-width="1.25"/>
<ellipse cx="1120.5" cy="347.2" rx="5.4" ry="5.95" fill="#3ab54a" stroke="#11692b" stroke-width="1.25"/>
<ellipse cx="1115.4" cy="366.4" rx="5.4" ry="5.95" fill="#3ab54a" stroke="#11692b" stroke-width="1.25"/>
<ellipse cx="1136.8" cy="295.5" rx="5.4" ry="5.95" fill="#3ab54a" stroke="#11692b" stroke-width="1.25"/>
<ellipse cx="1110.9" cy="372.8" rx="5.4" ry="5.95" fill="#3ab54a" stroke="#11692b" stroke-width="1.25"/>
<ellipse cx="1118.1" cy="358.1" rx="5.4" ry="5.95" fill="#3ab54a" stroke="#11692b" stroke-width="1.25"/>
<ellipse cx="1143.0" cy="286.6" rx="5.4" ry="5.95" fill="#eee71b" stroke="#938d1c" stroke-width="1.25"/>
<ellipse cx="1130.7" cy="322.6" rx="5.4" ry="5.95" fill="#3ab54a" stroke="#11692b" stroke-width="1.25"/>
<ellipse cx="1116.5" cy="354.4" rx="5.4" ry="5.95" fill="#3ab54a" stroke="#11692b" stroke-width="1.25"/>
<ellipse cx="1123.8" cy="337.7" rx="5.4" ry="5.95" fill="#3ab54a" stroke="#11692b" stroke-width="1.25"/>
<ellipse cx="1110.6" cy="377.0" rx="5.4" ry="5.95" fill="#3ab54a" stroke="#11692b" stroke-width="1.25"/>
<ellipse cx="1122.4" cy="347.4" rx="5.4" ry="5.95" fill="#3ab54a" stroke="#11692b" stroke-width="1.25"/>
<ellipse cx="1119.3" cy="349.4" rx="5.4" ry="5.95" fill="#3ab54a" stroke="#11692b" stroke-width="1.25"/>
<ellipse cx="1110.6" cy="380.6" rx="5.4" ry="5.95" fill="#3ab54a" stroke="#11692b" stroke-width="1.25"/>
<ellipse cx="1111.9" cy="376.0" rx="5.4" ry="5.95" fill="#3ab54a" stroke="#11692b" stroke-width="1.25"/>
<ellipse cx="1116.5" cy="363.9" rx="5.4" ry="5.95" fill="#3ab54a" stroke="#11692b" stroke-width="1.25"/>
<ellipse cx="1132.1" cy="317.8" rx="5.4" ry="5.95" fill="#3ab54a" stroke="#11692b" stroke-width="1.25"/>
<ellipse cx="1137.2" cy="307.7" rx="5.4" ry="5.95" fill="#eee71b" stroke="#938d1c" stroke-width="1.25"/>
<ellipse cx="1122.4" cy="344.4" rx="5.4" ry="5.95" fill="#3ab54a" stroke="#11692b" stroke-width="1.25"/>
<ellipse cx="1126.2" cy="332.1" rx="5.4" ry="5.95" fill="#3ab54a" stroke="#11692b" stroke-width="1.25"/>
<ellipse cx="1114.4" cy="372.7" rx="5.4" ry="5.95" fill="#3ab54a" stroke="#11692b" stroke-width="1.25"/>
<ellipse cx="1120.6" cy="346.1" rx="5.4" ry="5.95" fill="#3ab54a" stroke="#11692b" stroke-width="1.25"/>
<ellipse cx="1125.0" cy="342.4" rx="5.4" ry="5.95" fill="#3ab54a" stroke="#11692b" stroke-width="1.25"/>
<ellipse cx="1118.6" cy="354.7" rx="5.4" ry="5.95" fill="#3ab54a" stroke="#11692b" stroke-width="1.25"/>
<ellipse cx="1124.8" cy="334.2" rx="5.4" ry="5.95" fill="#3ab54a" stroke="#11692b" stroke-width="1.25"/>
<ellipse cx="1107.1" cy="386.2" rx="5.4" ry="5.95" fill="#3ab54a" stroke="#11692b" stroke-width="1.25"/>
<ellipse cx="1117.8" cy="356.9" rx="5.4" ry="5.95" fill="#3ab54a" stroke="#11692b" stroke-width="1.25"/>
<ellipse cx="1110.0" cy="381.4" rx="5.4" ry="5.95" fill="#3ab54a" stroke="#11692b" stroke-width="1.25"/>
<ellipse cx="1121.0" cy="351.7" rx="5.4" ry="5.95" fill="#3ab54a" stroke="#11692b" stroke-width="1.25"/>
<ellipse cx="1109.4" cy="382.7" rx="5.4" ry="5.95" fill="#3ab54a" stroke="#11692b" stroke-width="1.25"/>
<ellipse cx="1122.6" cy="351.5" rx="5.4" ry="5.95" fill="#3ab54a" stroke="#11692b" stroke-width="1.25"/>
<ellipse cx="1117.0" cy="362.7" rx="5.4" ry="5.95" fill="#3ab54a" stroke="#11692b" stroke-width="1.25"/>
<ellipse cx="1125.6" cy="338.3" rx="5.4" ry="5.95" fill="#3ab54a" stroke="#11692b" stroke-width="1.25"/>
<ellipse cx="1142.0" cy="295.6" rx="5.4" ry="5.95" fill="#3ab54a" stroke="#11692b" stroke-width="1.25"/>
<ellipse cx="1123.9" cy="343.2" rx="5.4" ry="5.95" fill="#3ab54a" stroke="#11692b" stroke-width="1.25"/>
<ellipse cx="1108.6" cy="386.5" rx="5.4" ry="5.95" fill="#3ab54a" stroke="#11692b" stroke-width="1.25"/>
<ellipse cx="1127.0" cy="337.2" rx="5.4" ry="5.95" fill="#3ab54a" stroke="#11692b" stroke-width="1.25"/>
<ellipse cx="1114.4" cy="367.0" rx="5.4" ry="5.95" fill="#3ab54a" stroke="#11692b" stroke-width="1.25"/>
<ellipse cx="1142.5" cy="292.8" rx="5.4" ry="5.95" fill="#4467b8" stroke="#2443a0" stroke-width="1.25"/>
<ellipse cx="1107.1" cy="391.4" rx="5.4" ry="5.95" fill="#eee71b" stroke="#938d1c" stroke-width="1.25"/>
<ellipse cx="1106.5" cy="394.9" rx="5.4" ry="5.95" fill="#3ab54a" stroke="#11692b" stroke-width="1.25"/>
<ellipse cx="1113.4" cy="375.7" rx="5.4" ry="5.95" fill="#3ab54a" stroke="#11692b" stroke-width="1.25"/>
<ellipse cx="1131.2" cy="328.4" rx="5.4" ry="5.95" fill="#3ab54a" stroke="#11692b" stroke-width="1.25"/>
<ellipse cx="1148.2" cy="280.6" rx="5.4" ry="5.95" fill="#eee71b" stroke="#938d1c" stroke-width="1.25"/>
<ellipse cx="1114.7" cy="368.8" rx="5.4" ry="5.95" fill="#3ab54a" stroke="#11692b" stroke-width="1.25"/>
<ellipse cx="1115.2" cy="373.1" rx="5.4" ry="5.95" fill="#3ab54a" stroke="#11692b" stroke-width="1.25"/>
<ellipse cx="1109.3" cy="391.2" rx="5.4" ry="5.95" fill="#3ab54a" stroke="#11692b" stroke-width="1.25"/>
<ellipse cx="1107.0" cy="397.0" rx="5.4" ry="5.95" fill="#3ab54a" stroke="#11692b" stroke-width="1.25"/>
<ellipse cx="1125.6" cy="339.0" rx="5.4" ry="5.95" fill="#3ab54a" stroke="#11692b" stroke-width="1.25"/>
<ellipse cx="1122.9" cy="355.6" rx="5.4" ry="5.95" fill="#3ab54a" stroke="#11692b" stroke-width="1.25"/>
<ellipse cx="1120.9" cy="353.1" rx="5.4" ry="5.95" fill="#3ab54a" stroke="#11692b" stroke-width="1.25"/>
<ellipse cx="1115.9" cy="377.0" rx="5.4" ry="5.95" fill="#3ab54a" stroke="#11692b" stroke-width="1.25"/>
<ellipse cx="1120.2" cy="356.6" rx="5.4" ry="5.95" fill="#3ab54a" stroke="#11692b" stroke-width="1.25"/>
<ellipse cx="1118.6" cy="361.5" rx="5.4" ry="5.95" fill="#3ab54a" stroke="#11692b" stroke-width="1.25"/>
<ellipse cx="1109.1" cy="389.3" rx="5.4" ry="5.95" fill="#3ab54a" stroke="#11692b" stroke-width="1.25"/>
<ellipse cx="1116.9" cy="368.7" rx="5.4" ry="5.95" fill="#3ab54a" stroke="#11692b" stroke-width="1.25"/>
<ellipse cx="1118.8" cy="367.2" rx="5.4" ry="5.95" fill="#3ab54a" stroke="#11692b" stroke-width="1.25"/>
<ellipse cx="1125.2" cy="343.4" rx="5.4" ry="5.95" fill="#3ab54a" stroke="#11692b" stroke-width="1.25"/>
<ellipse cx="1121.3" cy="358.2" rx="5.4" ry="5.95" fill="#3ab54a" stroke="#11692b" stroke-width="1.25"/>
<ellipse cx="1118.9" cy="363.5" rx="5.4" ry="5.95" fill="#3ab54a" stroke="#11692b" stroke-width="1.25"/>
<ellipse cx="1120.2" cy="363.5" rx="5.4" ry="5.95" fill="#3ab54a" stroke="#11692b" stroke-width="1.25"/>
<ellipse cx="1111.4" cy="384.4" rx="5.4" ry="5.95" fill="#3ab54a" stroke="#11692b" stroke-width="1.25"/>
<ellipse cx="1110.1" cy="396.8" rx="5.4" ry="5.95" fill="#3ab54a" stroke="#11692b" stroke-width="1.25"/>
<ellipse cx="1111.6" cy="386.3" rx="5.4" ry="5.95" fill="#3ab54a" stroke="#11692b" stroke-width="1.25"/>
<ellipse cx="1118.0" cy="370.9" rx="5.4" ry="5.95" fill="#3ab54a" stroke="#11692b" stroke-width="1.25"/>
<ellipse cx="1126.5" cy="349.9" rx="5.4" ry="5.95" fill="#3ab54a" stroke="#11692b" stroke-width="1.25"/>
<ellipse cx="1142.9" cy="302.8" rx="5.4" ry="5.95" fill="#3ab54a" stroke="#11692b" stroke-width="1.25"/>
<ellipse cx="1123.8" cy="353.3" rx="5.4" ry="5.95" fill="#3ab54a" stroke="#11692b" stroke-width="1.25"/>
<ellipse cx="1118.8" cy="371.4" rx="5.4" ry="5.95" fill="#3ab54a" stroke="#11692b" stroke-width="1.25"/>
<ellipse cx="1113.4" cy="385.4" rx="5.4" ry="5.95" fill="#3ab54a" stroke="#11692b" stroke-width="1.25"/>
<ellipse cx="1147.6" cy="290.6" rx="5.4" ry="5.95" fill="#3ab54a" stroke="#11692b" stroke-width="1.25"/>
<ellipse cx="1113.8" cy="377.4" rx="5.4" ry="5.95" fill="#3ab54a" stroke="#11692b" stroke-width="1.25"/>
<ellipse cx="1116.6" cy="374.1" rx="5.4" ry="5.95" fill="#3ab54a" stroke="#11692b" stroke-width="1.25"/>
<ellipse cx="1131.4" cy="338.4" rx="5.4" ry="5.95" fill="#3ab54a" stroke="#11692b" stroke-width="1.25"/>
<ellipse cx="1114.7" cy="380.0" rx="5.4" ry="5.95" fill="#3ab54a" stroke="#11692b" stroke-width="1.25"/>
<ellipse cx="1126.1" cy="345.9" rx="5.4" ry="5.95" fill="#3ab54a" stroke="#11692b" stroke-width="1.25"/>
<ellipse cx="1124.3" cy="348.6" rx="5.4" ry="5.95" fill="#3ab54a" stroke="#11692b" stroke-width="1.25"/>
<ellipse cx="1122.3" cy="363.8" rx="5.4" ry="5.95" fill="#3ab54a" stroke="#11692b" stroke-width="1.25"/>
<ellipse cx="1108.4" cy="401.2" rx="5.4" ry="5.95" fill="#3ab54a" stroke="#11692b" stroke-width="1.25"/>
<ellipse cx="1121.4" cy="366.5" rx="5.4" ry="5.95" fill="#3ab54a" stroke="#11692b" stroke-width="1.25"/>
<ellipse cx="1121.6" cy="361.1" rx="5.4" ry="5.95" fill="#3ab54a" stroke="#11692b" stroke-width="1.25"/>
<ellipse cx="1110.1" cy="393.4" rx="5.4" ry="5.95" fill="#3ab54a" stroke="#11692b" stroke-width="1.25"/>
<ellipse cx="1137.3" cy="313.7" rx="5.4" ry="5.95" fill="#3ab54a" stroke="#11692b" stroke-width="1.25"/>
<ellipse cx="1123.3" cy="362.8" rx="5.4" ry="5.95" fill="#3ab54a" stroke="#11692b" stroke-width="1.25"/>
<ellipse cx="1141.8" cy="307.7" rx="5.4" ry="5.95" fill="#f58d3a" stroke="#d4621c" stroke-width="1.25"/>
<ellipse cx="1111.0" cy="389.8" rx="5.4" ry="5.95" fill="#3ab54a" stroke="#11692b" stroke-width="1.25"/>
<ellipse cx="1124.4" cy="360.2" rx="5.4" ry="5.95" fill="#3ab54a" stroke="#11692b" stroke-width="1.25"/>
<ellipse cx="1130.6" cy="334.3" rx="5.4" ry="5.95" fill="#3ab54a" stroke="#11692b" stroke-width="1.25"/>
<ellipse cx="1137.2" cy="317.8" rx="5.4" ry="5.95" fill="#eee71b" stroke="#938d1c" stroke-width="1.25"/>
<ellipse cx="1113.4" cy="383.7" rx="5.4" ry="5.95" fill="#3ab54a" stroke="#11692b" stroke-width="1.25"/>
<ellipse cx="1126.0" cy="350.9" rx="5.4" ry="5.95" fill="#3ab54a" stroke="#11692b" stroke-width="1.25"/>
<ellipse cx="1112.3" cy="392.9" rx="5.4" ry="5.95" fill="#3ab54a" stroke="#11692b" stroke-width="1.25"/>
<ellipse cx="1149.2" cy="287.7" rx="5.4" ry="5.95" fill="#eee71b" stroke="#938d1c" stroke-width="1.25"/>
<ellipse cx="1122.7" cy="359.0" rx="5.4" ry="5.95" fill="#3ab54a" stroke="#11692b" stroke-width="1.25"/>
<ellipse cx="1116.4" cy="380.3" rx="5.4" ry="5.95" fill="#3ab54a" stroke="#11692b" stroke-width="1.25"/>
<ellipse cx="1119.1" cy="377.1" rx="5.4" ry="5.95" fill="#3ab54a" stroke="#11692b" stroke-width="1.25"/>
<ellipse cx="1125.1" cy="361.6" rx="5.4" ry="5.95" fill="#3ab54a" stroke="#11692b" stroke-width="1.25"/>
<ellipse cx="1109.4" cy="404.3" rx="5.4" ry="5.95" fill="#3ab54a" stroke="#11692b" stroke-width="1.25"/>
<ellipse cx="1119.3" cy="375.2" rx="5.4" ry="5.95" fill="#3ab54a" stroke="#11692b" stroke-width="1.25"/>
<ellipse cx="1125.8" cy="357.0" rx="5.4" ry="5.95" fill="#3ab54a" stroke="#11692b" stroke-width="1.25"/>
<ellipse cx="1122.0" cy="370.6" rx="5.4" ry="5.95" fill="#3ab54a" stroke="#11692b" stroke-width="1.25"/>
<ellipse cx="1112.2" cy="391.7" rx="5.4" ry="5.95" fill="#3ab54a" stroke="#11692b" stroke-width="1.25"/>
<ellipse cx="1111.7" cy="398.0" rx="5.4" ry="5.95" fill="#3ab54a" stroke="#11692b" stroke-width="1.25"/>
<ellipse cx="1121.3" cy="369.4" rx="5.4" ry="5.95" fill="#3ab54a" stroke="#11692b" stroke-width="1.25"/>
<ellipse cx="1122.3" cy="366.6" rx="5.4" ry="5.95" fill="#3ab54a" stroke="#11692b" stroke-width="1.25"/>
<ellipse cx="1136.2" cy="329.5" rx="5.4" ry="5.95" fill="#eee71b" stroke="#938d1c" stroke-width="1.25"/>
<ellipse cx="1136.6" cy="321.5" rx="5.4" ry="5.95" fill="#eee71b" stroke="#938d1c" stroke-width="1.25"/>
<ellipse cx="1113.1" cy="388.3" rx="5.4" ry="5.95" fill="#3ab54a" stroke="#11692b" stroke-width="1.25"/>
<ellipse cx="1126.4" cy="360.0" rx="5.4" ry="5.95" fill="#3ab54a" stroke="#11692b" stroke-width="1.25"/>
<ellipse cx="1125.7" cy="352.8" rx="5.4" ry="5.95" fill="#3ab54a" stroke="#11692b" stroke-width="1.25"/>
<ellipse cx="1109.4" cy="399.1" rx="5.4" ry="5.95" fill="#eee71b" stroke="#938d1c" stroke-width="1.25"/>
<ellipse cx="1111.8" cy="398.4" rx="5.4" ry="5.95" fill="#3ab54a" stroke="#11692b" stroke-width="1.25"/>
<ellipse cx="1125.5" cy="354.6" rx="5.4" ry="5.95" fill="#3ab54a" stroke="#11692b" stroke-width="1.25"/>
<ellipse cx="1120.8" cy="375.3" rx="5.4" ry="5.95" fill="#3ab54a" stroke="#11692b" stroke-width="1.25"/>
<ellipse cx="1111.5" cy="403.0" rx="5.4" ry="5.95" fill="#3ab54a" stroke="#11692b" stroke-width="1.25"/>
<ellipse cx="1147.3" cy="297.9" rx="5.4" ry="5.95" fill="#3ab54a" stroke="#11692b" stroke-width="1.25"/>
<ellipse cx="1113.7" cy="391.3" rx="5.4" ry="5.95" fill="#3ab54a" stroke="#11692b" stroke-width="1.25"/>
<ellipse cx="1113.9" cy="394.1" rx="5.4" ry="5.95" fill="#3ab54a" stroke="#11692b" stroke-width="1.25"/>
<ellipse cx="1113.9" cy="397.6" rx="5.4" ry="5.95" fill="#3ab54a" stroke="#11692b" stroke-width="1.25"/>
<ellipse cx="1117.5" cy="380.4" rx="5.4" ry="5.95" fill="#3ab54a" stroke="#11692b" stroke-width="1.25"/>
<ellipse cx="1120.4" cy="373.3" rx="5.4" ry="5.95" fill="#3ab54a" stroke="#11692b" stroke-width="1.25"/>
<ellipse cx="1123.9" cy="374.5" rx="5.4" ry="5.95" fill="#3ab54a" stroke="#11692b" stroke-width="1.25"/>
<ellipse cx="1123.0" cy="371.3" rx="5.4" ry="5.95" fill="#3ab54a" stroke="#11692b" stroke-width="1.25"/>
<ellipse cx="1125.9" cy="365.4" rx="5.4" ry="5.95" fill="#eee71b" stroke="#938d1c" stroke-width="1.25"/>
<ellipse cx="1136.8" cy="333.4" rx="5.4" ry="5.95" fill="#4467b8" stroke="#2443a0" stroke-width="1.25"/>
<ellipse cx="1112.4" cy="405.8" rx="5.4" ry="5.95" fill="#3ab54a" stroke="#11692b" stroke-width="1.25"/>
<ellipse cx="1121.2" cy="377.1" rx="5.4" ry="5.95" fill="#3ab54a" stroke="#11692b" stroke-width="1.25"/>
<ellipse cx="1141.9" cy="317.8" rx="5.4" ry="5.95" fill="#3ab54a" stroke="#11692b" stroke-width="1.25"/>
<ellipse cx="1132.7" cy="345.0" rx="5.4" ry="5.95" fill="#3ab54a" stroke="#11692b" stroke-width="1.25"/>
<ellipse cx="1125.3" cy="373.4" rx="5.4" ry="5.95" fill="#3ab54a" stroke="#11692b" stroke-width="1.25"/>
<ellipse cx="1125.7" cy="363.2" rx="5.4" ry="5.95" fill="#3ab54a" stroke="#11692b" stroke-width="1.25"/>
<ellipse cx="1119.7" cy="379.7" rx="5.4" ry="5.95" fill="#eee71b" stroke="#938d1c" stroke-width="1.25"/>
<ellipse cx="1125.3" cy="374.4" rx="5.4" ry="5.95" fill="#3ab54a" stroke="#11692b" stroke-width="1.25"/>
<ellipse cx="1125.0" cy="366.3" rx="5.4" ry="5.95" fill="#3ab54a" stroke="#11692b" stroke-width="1.25"/>
<ellipse cx="1113.6" cy="407.4" rx="5.4" ry="5.95" fill="#3ab54a" stroke="#11692b" stroke-width="1.25"/>
<ellipse cx="1143.7" cy="313.4" rx="5.4" ry="5.95" fill="#3ab54a" stroke="#11692b" stroke-width="1.25"/>
<ellipse cx="1131.2" cy="350.3" rx="5.4" ry="5.95" fill="#3ab54a" stroke="#11692b" stroke-width="1.25"/>
<ellipse cx="1154.4" cy="285.1" rx="5.4" ry="5.95" fill="#eee71b" stroke="#938d1c" stroke-width="1.25"/>
<ellipse cx="1123.9" cy="377.6" rx="5.4" ry="5.95" fill="#3ab54a" stroke="#11692b" stroke-width="1.25"/>
<ellipse cx="1147.7" cy="302.9" rx="5.4" ry="5.95" fill="#4467b8" stroke="#2443a0" stroke-width="1.25"/>
<ellipse cx="1124.7" cy="369.6" rx="5.4" ry="5.95" fill="#3ab54a" stroke="#11692b" stroke-width="1.25"/>
<ellipse cx="1147.8" cy="311.8" rx="5.4" ry="5.95" fill="#3ab54a" stroke="#11692b" stroke-width="1.25"/>
<ellipse cx="1136.6" cy="345.0" rx="5.4" ry="5.95" fill="#3ab54a" stroke="#11692b" stroke-width="1.25"/>
<ellipse cx="1149.1" cy="308.0" rx="5.4" ry="5.95" fill="#3ab54a" stroke="#11692b" stroke-width="1.25"/>
<ellipse cx="1124.5" cy="374.6" rx="5.4" ry="5.95" fill="#3ab54a" stroke="#11692b" stroke-width="1.25"/>
<ellipse cx="1125.6" cy="369.0" rx="5.4" ry="5.95" fill="#3ab54a" stroke="#11692b" stroke-width="1.25"/>
<ellipse cx="1153.4" cy="291.6" rx="5.4" ry="5.95" fill="#eee71b" stroke="#938d1c" stroke-width="1.25"/>
<ellipse cx="1136.9" cy="338.4" rx="5.4" ry="5.95" fill="#3ab54a" stroke="#11692b" stroke-width="1.25"/>
<ellipse cx="1131.7" cy="354.4" rx="5.4" ry="5.95" fill="#3ab54a" stroke="#11692b" stroke-width="1.25"/>
<ellipse cx="1153.2" cy="296.1" rx="5.4" ry="5.95" fill="#3ab54a" stroke="#11692b" stroke-width="1.25"/>
<ellipse cx="1143.5" cy="324.0" rx="5.4" ry="5.95" fill="#3ab54a" stroke="#11692b" stroke-width="1.25"/>
<ellipse cx="1143.9" cy="326.8" rx="5.4" ry="5.95" fill="#3ab54a" stroke="#11692b" stroke-width="1.25"/>
<ellipse cx="1131.9" cy="357.9" rx="5.4" ry="5.95" fill="#3ab54a" stroke="#11692b" stroke-width="1.25"/>
<ellipse cx="1147.9" cy="318.4" rx="5.4" ry="5.95" fill="#3ab54a" stroke="#11692b" stroke-width="1.25"/>
<ellipse cx="1137.7" cy="349.2" rx="5.4" ry="5.95" fill="#3ab54a" stroke="#11692b" stroke-width="1.25"/>
<ellipse cx="1130.4" cy="370.4" rx="5.4" ry="5.95" fill="#3ab54a" stroke="#11692b" stroke-width="1.25"/>
<ellipse cx="1142.2" cy="332.1" rx="5.4" ry="5.95" fill="#3ab54a" stroke="#11692b" stroke-width="1.25"/>
<ellipse cx="1153.2" cy="308.1" rx="5.4" ry="5.95" fill="#3ab54a" stroke="#11692b" stroke-width="1.25"/>
<ellipse cx="1159.0" cy="290.1" rx="5.4" ry="5.95" fill="#3ab54a" stroke="#11692b" stroke-width="1.25"/>
<ellipse cx="1131.5" cy="363.7" rx="5.4" ry="5.95" fill="#3ab54a" stroke="#11692b" stroke-width="1.25"/>
<ellipse cx="1154.8" cy="302.9" rx="5.4" ry="5.95" fill="#f58d3a" stroke="#d4621c" stroke-width="1.25"/>
<ellipse cx="1160.0" cy="287.9" rx="5.4" ry="5.95" fill="#f58d3a" stroke="#d4621c" stroke-width="1.25"/>
<ellipse cx="1147.3" cy="328.8" rx="5.4" ry="5.95" fill="#3ab54a" stroke="#11692b" stroke-width="1.25"/>
<ellipse cx="1142.5" cy="342.1" rx="5.4" ry="5.95" fill="#3ab54a" stroke="#11692b" stroke-width="1.25"/>
<ellipse cx="1159.3" cy="295.7" rx="5.4" ry="5.95" fill="#f58d3a" stroke="#d4621c" stroke-width="1.25"/>
<ellipse cx="1154.2" cy="311.7" rx="5.4" ry="5.95" fill="#3ab54a" stroke="#11692b" stroke-width="1.25"/>
<ellipse cx="1148.9" cy="323.3" rx="5.4" ry="5.95" fill="#3ab54a" stroke="#11692b" stroke-width="1.25"/>
<ellipse cx="1147.8" cy="332.0" rx="5.4" ry="5.95" fill="#3ab54a" stroke="#11692b" stroke-width="1.25"/>
<ellipse cx="1144.0" cy="337.9" rx="5.4" ry="5.95" fill="#3ab54a" stroke="#11692b" stroke-width="1.25"/>
<ellipse cx="1160.2" cy="301.2" rx="5.4" ry="5.95" fill="#3ab54a" stroke="#11692b" stroke-width="1.25"/>
<ellipse cx="1154.9" cy="324.2" rx="5.4" ry="5.95" fill="#3ab54a" stroke="#11692b" stroke-width="1.25"/>
<ellipse cx="1158.7" cy="313.6" rx="5.4" ry="5.95" fill="#3ab54a" stroke="#11692b" stroke-width="1.25"/>
<ellipse cx="1148.9" cy="338.8" rx="5.4" ry="5.95" fill="#3ab54a" stroke="#11692b" stroke-width="1.25"/>
<ellipse cx="1164.7" cy="286.1" rx="5.4" ry="5.95" fill="#eee71b" stroke="#938d1c" stroke-width="1.25"/>
<ellipse cx="1154.1" cy="318.4" rx="5.4" ry="5.95" fill="#4467b8" stroke="#2443a0" stroke-width="1.25"/>
<ellipse cx="1153.1" cy="327.8" rx="5.4" ry="5.95" fill="#4467b8" stroke="#2443a0" stroke-width="1.25"/>
<ellipse cx="1164.9" cy="300.6" rx="5.4" ry="5.95" fill="#3ab54a" stroke="#11692b" stroke-width="1.25"/>
<ellipse cx="1164.9" cy="291.8" rx="5.4" ry="5.95" fill="#4467b8" stroke="#2443a0" stroke-width="1.25"/>
<ellipse cx="1169.7" cy="286.3" rx="5.4" ry="5.95" fill="#3ab54a" stroke="#11692b" stroke-width="1.25"/>
<ellipse cx="1152.9" cy="332.3" rx="5.4" ry="5.95" fill="#3ab54a" stroke="#11692b" stroke-width="1.25"/>
<ellipse cx="1160.3" cy="308.6" rx="5.4" ry="5.95" fill="#3ab54a" stroke="#11692b" stroke-width="1.25"/>
<ellipse cx="1153.6" cy="337.1" rx="5.4" ry="5.95" fill="#3ab54a" stroke="#11692b" stroke-width="1.25"/>
<ellipse cx="1159.5" cy="317.9" rx="5.4" ry="5.95" fill="#3ab54a" stroke="#11692b" stroke-width="1.25"/>
<ellipse cx="1166.4" cy="296.7" rx="5.4" ry="5.95" fill="#3ab54a" stroke="#11692b" stroke-width="1.25"/>
<ellipse cx="1160.7" cy="322.5" rx="5.4" ry="5.95" fill="#3ab54a" stroke="#11692b" stroke-width="1.25"/>
<ellipse cx="1165.0" cy="308.5" rx="5.4" ry="5.95" fill="#3ab54a" stroke="#11692b" stroke-width="1.25"/>
<ellipse cx="1169.8" cy="295.6" rx="5.4" ry="5.95" fill="#3ab54a" stroke="#11692b" stroke-width="1.25"/>
<ellipse cx="1171.3" cy="291.6" rx="5.4" ry="5.95" fill="#3ab54a" stroke="#11692b" stroke-width="1.25"/>
<ellipse cx="1165.1" cy="312.7" rx="5.4" ry="5.95" fill="#3ab54a" stroke="#11692b" stroke-width="1.25"/>
<ellipse cx="1160.4" cy="327.3" rx="5.4" ry="5.95" fill="#3ab54a" stroke="#11692b" stroke-width="1.25"/>
<ellipse cx="1170.3" cy="301.3" rx="5.4" ry="5.95" fill="#3ab54a" stroke="#11692b" stroke-width="1.25"/>
<ellipse cx="1170.0" cy="306.1" rx="5.4" ry="5.95" fill="#3ab54a" stroke="#11692b" stroke-width="1.25"/>
<ellipse cx="1159.1" cy="334.0" rx="5.4" ry="5.95" fill="#3ab54a" stroke="#11692b" stroke-width="1.25"/>
<ellipse cx="1165.2" cy="318.2" rx="5.4" ry="5.95" fill="#3ab54a" stroke="#11692b" stroke-width="1.25"/>
<ellipse cx="1176.8" cy="290.3" rx="5.4" ry="5.95" fill="#3ab54a" stroke="#11692b" stroke-width="1.25"/>
<ellipse cx="1175.8" cy="297.8" rx="5.4" ry="5.95" fill="#3ab54a" stroke="#11692b" stroke-width="1.25"/>
<ellipse cx="1170.6" cy="313.7" rx="5.4" ry="5.95" fill="#3ab54a" stroke="#11692b" stroke-width="1.25"/>
<ellipse cx="1177.5" cy="301.8" rx="5.4" ry="5.95" fill="#3ab54a" stroke="#11692b" stroke-width="1.25"/>
<ellipse cx="1182.7" cy="292.7" rx="5.4" ry="5.95" fill="#3ab54a" stroke="#11692b" stroke-width="1.25"/>
<ellipse cx="1180.9" cy="298.2" rx="5.4" ry="5.95" fill="#3ab54a" stroke="#11692b" stroke-width="1.25"/>
<ellipse cx="1113.3" cy="349.3" rx="5.4" ry="5.95" fill="#4467b8" stroke="#2443a0" stroke-width="1.25"/>
<ellipse cx="1141.8" cy="341.7" rx="5.4" ry="5.95" fill="#4467b8" stroke="#2443a0" stroke-width="1.25"/>
<ellipse cx="1150.8" cy="335.8" rx="5.4" ry="5.95" fill="#4467b8" stroke="#2443a0" stroke-width="1.25"/>
<ellipse cx="1135.9" cy="339.6" rx="5.4" ry="5.95" fill="#f58d3a" stroke="#d4621c" stroke-width="1.25"/>
<ellipse cx="1187.8" cy="317.4" rx="5.4" ry="5.95" fill="#4467b8" stroke="#2443a0" stroke-width="1.25"/>
<ellipse cx="1192.0" cy="330.6" rx="5.4" ry="5.95" fill="#3ab54a" stroke="#11692b" stroke-width="1.25"/>
<ellipse cx="1166.6" cy="287.2" rx="5.4" ry="5.95" fill="#3ab54a" stroke="#11692b" stroke-width="1.25"/>
<ellipse cx="1179.8" cy="285.8" rx="5.4" ry="5.95" fill="#3ab54a" stroke="#11692b" stroke-width="1.25"/>
<ellipse cx="1184.8" cy="291.0" rx="5.4" ry="5.95" fill="#3ab54a" stroke="#11692b" stroke-width="1.25"/>
<ellipse cx="1180.0" cy="303.1" rx="5.4" ry="5.95" fill="#3ab54a" stroke="#11692b" stroke-width="1.25"/>
<ellipse cx="1172.0" cy="298.8" rx="5.4" ry="5.95" fill="#3ab54a" stroke="#11692b" stroke-width="1.25"/>
<ellipse cx="1165.7" cy="291.4" rx="5.4" ry="5.95" fill="#3ab54a" stroke="#11692b" stroke-width="1.25"/>
<ellipse cx="1174.7" cy="312.6" rx="5.4" ry="5.95" fill="#3ab54a" stroke="#11692b" stroke-width="1.25"/>
<ellipse cx="1170.0" cy="322.2" rx="5.4" ry="5.95" fill="#3ab54a" stroke="#11692b" stroke-width="1.25"/>
<ellipse cx="1160.9" cy="333.4" rx="5.4" ry="5.95" fill="#3ab54a" stroke="#11692b" stroke-width="1.25"/>
<ellipse cx="1160.9" cy="334.3" rx="5.4" ry="5.95" fill="#3ab54a" stroke="#11692b" stroke-width="1.25"/>
<ellipse cx="1146.7" cy="347.4" rx="5.4" ry="5.95" fill="#3ab54a" stroke="#11692b" stroke-width="1.25"/>
<ellipse cx="1132.7" cy="343.3" rx="5.4" ry="5.95" fill="#3ab54a" stroke="#11692b" stroke-width="1.25"/>
<ellipse cx="1126.3" cy="344.9" rx="5.4" ry="5.95" fill="#3ab54a" stroke="#11692b" stroke-width="1.25"/>
<ellipse cx="1121.0" cy="354.4" rx="5.4" ry="5.95" fill="#3ab54a" stroke="#11692b" stroke-width="1.25"/>
<ellipse cx="1132.7" cy="355.5" rx="5.4" ry="5.95" fill="#3ab54a" stroke="#11692b" stroke-width="1.25"/>
<ellipse cx="1133.8" cy="365.6" rx="5.4" ry="5.95" fill="#3ab54a" stroke="#11692b" stroke-width="1.25"/>
<ellipse cx="1123.2" cy="365.1" rx="5.4" ry="5.95" fill="#3ab54a" stroke="#11692b" stroke-width="1.25"/>
<ellipse cx="1114.6" cy="366.1" rx="5.4" ry="5.95" fill="#3ab54a" stroke="#11692b" stroke-width="1.25"/>
<ellipse cx="1128.5" cy="375.2" rx="5.4" ry="5.95" fill="#3ab54a" stroke="#11692b" stroke-width="1.25"/>
<ellipse cx="1122.1" cy="374.6" rx="5.4" ry="5.95" fill="#3ab54a" stroke="#11692b" stroke-width="1.25"/>
<ellipse cx="1113.6" cy="376.2" rx="5.4" ry="5.95" fill="#3ab54a" stroke="#11692b" stroke-width="1.25"/>
<ellipse cx="1113.6" cy="383.0" rx="5.4" ry="5.95" fill="#3ab54a" stroke="#11692b" stroke-width="1.25"/>
<ellipse cx="1113.6" cy="392.0" rx="5.4" ry="5.95" fill="#3ab54a" stroke="#11692b" stroke-width="1.25"/>
<ellipse cx="1113.6" cy="400.0" rx="5.4" ry="5.95" fill="#3ab54a" stroke="#11692b" stroke-width="1.25"/>
<ellipse cx="1113.0" cy="407.5" rx="5.4" ry="5.95" fill="#3ab54a" stroke="#11692b" stroke-width="1.25"/>
<ellipse cx="1142.0" cy="389.5" rx="5.4" ry="5.95" fill="#3ab54a" stroke="#11692b" stroke-width="1.25"/>
<path d="M85.6 368.4 L514.9 186.0" stroke="#151515" stroke-width="1.45" stroke-dasharray="2.8 1.5" fill="none"/>
<path d="M535.8 416.4 L850.5 175.3" stroke="#151515" stroke-width="1.45" stroke-dasharray="2.8 1.5" fill="none"/>
<path d="M1101.2 361.5 L1205.5 234.2" stroke="#151515" stroke-width="1.45" stroke-dasharray="2.8 1.5" fill="none"/>
<g transform="translate(302.60 12.90) scale(0.9 1)" fill="#1a1a1a"><text x="-23.65" y="0" font-size="15.2" font-weight="bold">K</text><text x="-12.68" y="0" font-size="15.2" font-weight="bold">N</text><polygon points="4.35,0.00 4.35,-10.88 2.74,-10.88 2.28,-10.15 1.41,-9.30 0.27,-8.59 -1.17,-7.93 -1.17,-6.16 0.12,-6.69 1.34,-7.37 2.31,-7.98 2.31,0.00"/><text x="6.75" y="0" font-size="15.2" font-weight="bold">9</text><text x="15.20" y="0" font-size="15.2" font-weight="bold">7</text></g>
<text transform="translate(90.05 35.00) scale(0.967 1)" font-size="14" text-anchor="start" fill="#666666">log10(Y) = 0.8516 + 0.4267*log10(X)</text>
<text transform="translate(90.05 50.40) scale(0.967 1)" font-size="14" text-anchor="start" fill="#666666">R²: 0.442</text>
<text transform="translate(498.60 403.90) scale(1.0 1)" font-size="23.5" text-anchor="middle" fill="#1a1a1a">A</text>
<g transform="translate(746.05 12.90) scale(0.87 1)" fill="#1a1a1a"><text x="-27.03" y="0" font-size="15.2" font-weight="bold">A</text><text x="-16.06" y="0" font-size="15.2" font-weight="bold">T</text><text x="-6.77" y="0" font-size="15.2" font-weight="bold">2</text><polygon points="7.73,0.00 7.73,-10.88 6.12,-10.88 5.66,-10.15 4.80,-9.30 3.66,-8.59 2.21,-7.93 2.21,-6.16 3.50,-6.69 4.72,-7.37 5.69,-7.98 5.69,0.00"/><text x="10.13" y="0" font-size="15.2" font-weight="bold">0</text><text x="18.58" y="0" font-size="15.2" font-weight="bold">4</text></g>
<text transform="translate(533.15 35.00) scale(0.967 1)" font-size="14" text-anchor="start" fill="#666666">log10(Y) = 1.172 + 0.7694*log10(X)</text>
<text transform="translate(533.15 50.40) scale(0.967 1)" font-size="14" text-anchor="start" fill="#666666">R²: 0.639</text>
<text transform="translate(939.50 403.90) scale(0.88 1)" font-size="23.5" text-anchor="middle" fill="#1a1a1a">B</text>
<g transform="translate(1189.75 12.90) scale(0.895 1)" fill="#1a1a1a"><text x="-28.30" y="0" font-size="15.2" font-weight="bold">M</text><text x="-15.64" y="0" font-size="15.2" font-weight="bold">V</text><polygon points="0.55,0.00 0.55,-10.88 -1.06,-10.88 -1.52,-10.15 -2.39,-9.30 -3.53,-8.59 -4.97,-7.93 -4.97,-6.16 -3.68,-6.69 -2.46,-7.37 -1.49,-7.98 -1.49,0.00"/><polygon points="9.00,0.00 9.00,-10.88 7.39,-10.88 6.93,-10.15 6.06,-9.30 4.92,-8.59 3.48,-7.93 3.48,-6.16 4.77,-6.69 5.99,-7.37 6.96,-7.98 6.96,0.00"/><polygon points="17.45,0.00 17.45,-10.88 15.84,-10.88 15.38,-10.15 14.52,-9.30 13.38,-8.59 11.93,-7.93 11.93,-6.16 13.22,-6.69 14.44,-7.37 15.41,-7.98 15.41,0.00"/><text x="19.85" y="0" font-size="15.2" font-weight="bold">0</text></g>
<text transform="translate(976.85 35.00) scale(0.967 1)" font-size="14" text-anchor="start" fill="#666666">log10(Y) = 1.372 + 1.226*log10(X)</text>
<text transform="translate(976.85 50.40) scale(0.967 1)" font-size="14" text-anchor="start" fill="#666666">R²: 0.421</text>
<text transform="translate(1374.55 403.90) scale(0.92 1)" font-size="23.5" text-anchor="middle" fill="#1a1a1a">C</text>
<text transform="translate(659.00 477.60) scale(0.865 1)" font-size="30.5" font-weight="bold" text-anchor="start" fill="#1a1a1a">Chla</text>
<text transform="translate(725.60 477.00) scale(0.95 1)" font-size="28" font-weight="bold" text-anchor="start" fill="#1a1a1a">(</text>
<text transform="translate(733.20 477.60) scale(0.89 1)" font-size="30.5" font-weight="bold" text-anchor="start" fill="#1a1a1a">mg m</text>
<rect x="807.3" y="458.4" width="6.3" height="2.3" fill="#1a1a1a"/>
<text transform="translate(818.00 466.70) scale(1.18 1)" font-size="14.5" font-weight="bold" text-anchor="middle" fill="#1a1a1a">3</text>
<text transform="translate(824.80 477.00) scale(0.95 1)" font-size="28" font-weight="bold" text-anchor="start" fill="#1a1a1a">)</text>
<g transform="translate(23.2 215.9) rotate(-90)" font-size="26.4" font-weight="bold" fill="#1a1a1a"><text transform="translate(-47.3 0) scale(1.06 1)" text-anchor="middle">P</text><text transform="translate(-26.75 0) scale(1.05 1)" text-anchor="middle">C</text><text transform="translate(-1.6 0) scale(0.95 1)" text-anchor="middle">(</text><text transform="translate(9.95 0) scale(1.08 1)" text-anchor="middle">µ</text><text transform="translate(32.0 0) scale(1.01 1)" text-anchor="middle">M</text><text transform="translate(52.4 0) scale(0.9 1)" text-anchor="middle">)</text></g>
</svg>
</body></html>
